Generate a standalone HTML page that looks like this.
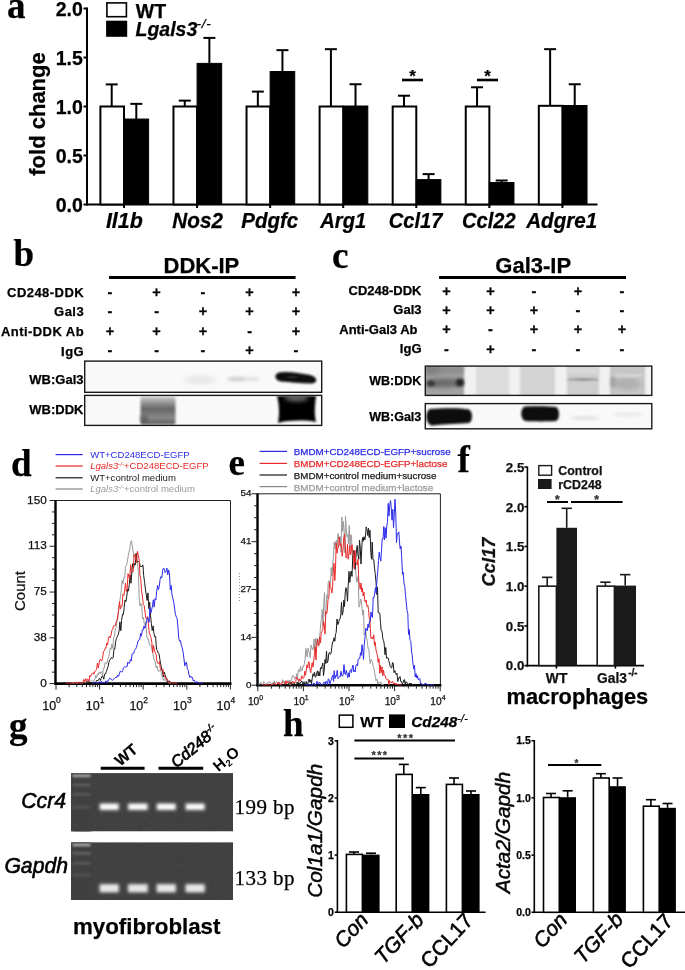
<!DOCTYPE html>
<html><head><meta charset="utf-8"><style>
html,body{margin:0;padding:0;background:#fff;width:685px;height:970px;overflow:hidden}
svg{display:block;will-change:transform}
</style></head><body>
<svg width="685" height="970" viewBox="0 0 685 970">
<defs><filter id="b2_5" x="-50%" y="-50%" width="200%" height="200%"><feGaussianBlur stdDeviation="2.5"/></filter><filter id="b1_6" x="-50%" y="-50%" width="200%" height="200%"><feGaussianBlur stdDeviation="1.6"/></filter><filter id="b1_8" x="-50%" y="-50%" width="200%" height="200%"><feGaussianBlur stdDeviation="1.8"/></filter><filter id="b1_0" x="-50%" y="-50%" width="200%" height="200%"><feGaussianBlur stdDeviation="1.0"/></filter><filter id="b0_8" x="-50%" y="-50%" width="200%" height="200%"><feGaussianBlur stdDeviation="0.8"/></filter><filter id="b1_5" x="-50%" y="-50%" width="200%" height="200%"><feGaussianBlur stdDeviation="1.5"/></filter><filter id="b2" x="-50%" y="-50%" width="200%" height="200%"><feGaussianBlur stdDeviation="2"/></filter><filter id="b2_0" x="-50%" y="-50%" width="200%" height="200%"><feGaussianBlur stdDeviation="2.0"/></filter><filter id="b2_2" x="-50%" y="-50%" width="200%" height="200%"><feGaussianBlur stdDeviation="2.2"/></filter><filter id="b1_2" x="-50%" y="-50%" width="200%" height="200%"><feGaussianBlur stdDeviation="1.2"/></filter><filter id="b1_1" x="-50%" y="-50%" width="200%" height="200%"><feGaussianBlur stdDeviation="1.1"/></filter><filter id="b0_9" x="-50%" y="-50%" width="200%" height="200%"><feGaussianBlur stdDeviation="0.9"/></filter></defs>
<rect x="0" y="0" width="685" height="970" fill="#fff"/>
<text x="7.00" y="18.40" font-family="Liberation Serif" font-size="37" font-weight="bold" font-style="normal" text-anchor="start" fill="#000" stroke="#000" stroke-width="0.25" >a</text>
<line x1="87.00" y1="7.50" x2="87.00" y2="205.50" stroke="#000" stroke-width="2" />
<line x1="86.00" y1="204.50" x2="597.50" y2="204.50" stroke="#000" stroke-width="2" />
<line x1="83.50" y1="204.50" x2="87.00" y2="204.50" stroke="#000" stroke-width="2" />
<text x="82.80" y="211.50" font-family="Liberation Sans" font-size="19.5" font-weight="bold" font-style="normal" text-anchor="end" fill="#000" stroke="#000" stroke-width="0.25" >0.0</text>
<line x1="83.50" y1="155.50" x2="87.00" y2="155.50" stroke="#000" stroke-width="2" />
<text x="82.80" y="162.50" font-family="Liberation Sans" font-size="19.5" font-weight="bold" font-style="normal" text-anchor="end" fill="#000" stroke="#000" stroke-width="0.25" >0.5</text>
<line x1="83.50" y1="106.50" x2="87.00" y2="106.50" stroke="#000" stroke-width="2" />
<text x="82.80" y="113.50" font-family="Liberation Sans" font-size="19.5" font-weight="bold" font-style="normal" text-anchor="end" fill="#000" stroke="#000" stroke-width="0.25" >1.0</text>
<line x1="83.50" y1="57.50" x2="87.00" y2="57.50" stroke="#000" stroke-width="2" />
<text x="82.80" y="64.50" font-family="Liberation Sans" font-size="19.5" font-weight="bold" font-style="normal" text-anchor="end" fill="#000" stroke="#000" stroke-width="0.25" >1.5</text>
<line x1="83.50" y1="8.50" x2="87.00" y2="8.50" stroke="#000" stroke-width="2" />
<text x="82.80" y="15.50" font-family="Liberation Sans" font-size="19.5" font-weight="bold" font-style="normal" text-anchor="end" fill="#000" stroke="#000" stroke-width="0.25" >2.0</text>
<text x="0.00" y="0.00" font-family="Liberation Sans" font-size="22" font-weight="bold" font-style="normal" text-anchor="middle" fill="#000" stroke="#000" stroke-width="0.25" transform="translate(44.5,114) rotate(-90)">fold change</text>
<rect x="100.40" y="106.50" width="23.60" height="98.00" fill="#fff" stroke="#000" stroke-width="2" />
<line x1="111.70" y1="106.50" x2="111.70" y2="84.40" stroke="#000" stroke-width="2" />
<line x1="105.70" y1="84.40" x2="117.70" y2="84.40" stroke="#000" stroke-width="2" />
<rect x="124.00" y="119.04" width="24.60" height="85.46" fill="#000" stroke="#000" stroke-width="1" />
<line x1="136.30" y1="119.04" x2="136.30" y2="103.85" stroke="#000" stroke-width="2" />
<line x1="130.30" y1="103.85" x2="142.30" y2="103.85" stroke="#000" stroke-width="2" />
<line x1="124.00" y1="204.50" x2="124.00" y2="208.00" stroke="#000" stroke-width="2" />
<text x="0.00" y="0.00" font-family="Liberation Sans" font-size="21.5" font-weight="bold" font-style="italic" text-anchor="middle" fill="#000" stroke="#000" stroke-width="0.25" transform="translate(124.3,228.4) scale(0.994,1)">Il1b</text>
<rect x="173.47" y="106.50" width="23.60" height="98.00" fill="#fff" stroke="#000" stroke-width="2" />
<line x1="184.77" y1="106.50" x2="184.77" y2="100.62" stroke="#000" stroke-width="2" />
<line x1="178.77" y1="100.62" x2="190.77" y2="100.62" stroke="#000" stroke-width="2" />
<rect x="197.07" y="63.38" width="24.60" height="141.12" fill="#000" stroke="#000" stroke-width="1" />
<line x1="209.37" y1="63.38" x2="209.37" y2="37.90" stroke="#000" stroke-width="2" />
<line x1="203.37" y1="37.90" x2="215.37" y2="37.90" stroke="#000" stroke-width="2" />
<line x1="197.07" y1="204.50" x2="197.07" y2="208.00" stroke="#000" stroke-width="2" />
<text x="0.00" y="0.00" font-family="Liberation Sans" font-size="21.5" font-weight="bold" font-style="italic" text-anchor="middle" fill="#000" stroke="#000" stroke-width="0.25" transform="translate(197.6,228.4) scale(0.962,1)">Nos2</text>
<rect x="246.54" y="106.50" width="23.60" height="98.00" fill="#fff" stroke="#000" stroke-width="2" />
<line x1="257.84" y1="106.50" x2="257.84" y2="91.60" stroke="#000" stroke-width="2" />
<line x1="251.84" y1="91.60" x2="263.84" y2="91.60" stroke="#000" stroke-width="2" />
<rect x="270.14" y="71.51" width="24.60" height="132.99" fill="#000" stroke="#000" stroke-width="1" />
<line x1="282.44" y1="71.51" x2="282.44" y2="50.15" stroke="#000" stroke-width="2" />
<line x1="276.44" y1="50.15" x2="288.44" y2="50.15" stroke="#000" stroke-width="2" />
<line x1="270.14" y1="204.50" x2="270.14" y2="208.00" stroke="#000" stroke-width="2" />
<text x="0.00" y="0.00" font-family="Liberation Sans" font-size="21.5" font-weight="bold" font-style="italic" text-anchor="middle" fill="#000" stroke="#000" stroke-width="0.25" transform="translate(269.8,228.4) scale(0.953,1)">Pdgfc</text>
<rect x="319.61" y="106.50" width="23.60" height="98.00" fill="#fff" stroke="#000" stroke-width="2" />
<line x1="330.91" y1="106.50" x2="330.91" y2="49.17" stroke="#000" stroke-width="2" />
<line x1="324.91" y1="49.17" x2="336.91" y2="49.17" stroke="#000" stroke-width="2" />
<rect x="343.21" y="106.01" width="24.60" height="98.49" fill="#000" stroke="#000" stroke-width="1" />
<line x1="355.51" y1="106.01" x2="355.51" y2="84.25" stroke="#000" stroke-width="2" />
<line x1="349.51" y1="84.25" x2="361.51" y2="84.25" stroke="#000" stroke-width="2" />
<line x1="343.21" y1="204.50" x2="343.21" y2="208.00" stroke="#000" stroke-width="2" />
<text x="0.00" y="0.00" font-family="Liberation Sans" font-size="21.5" font-weight="bold" font-style="italic" text-anchor="middle" fill="#000" stroke="#000" stroke-width="0.25" transform="translate(343.2,228.4) scale(0.938,1)">Arg1</text>
<rect x="392.68" y="106.50" width="23.60" height="98.00" fill="#fff" stroke="#000" stroke-width="2" />
<line x1="403.98" y1="106.50" x2="403.98" y2="95.72" stroke="#000" stroke-width="2" />
<line x1="397.98" y1="95.72" x2="409.98" y2="95.72" stroke="#000" stroke-width="2" />
<rect x="416.28" y="179.61" width="24.60" height="24.89" fill="#000" stroke="#000" stroke-width="1" />
<line x1="428.58" y1="179.61" x2="428.58" y2="174.12" stroke="#000" stroke-width="2" />
<line x1="422.58" y1="174.12" x2="434.58" y2="174.12" stroke="#000" stroke-width="2" />
<line x1="416.28" y1="204.50" x2="416.28" y2="208.00" stroke="#000" stroke-width="2" />
<text x="0.00" y="0.00" font-family="Liberation Sans" font-size="21.5" font-weight="bold" font-style="italic" text-anchor="middle" fill="#000" stroke="#000" stroke-width="0.25" transform="translate(415.5,228.4) scale(0.936,1)">Ccl17</text>
<rect x="465.75" y="106.50" width="23.60" height="98.00" fill="#fff" stroke="#000" stroke-width="2" />
<line x1="477.05" y1="106.50" x2="477.05" y2="87.29" stroke="#000" stroke-width="2" />
<line x1="471.05" y1="87.29" x2="483.05" y2="87.29" stroke="#000" stroke-width="2" />
<rect x="489.35" y="182.55" width="24.60" height="21.95" fill="#000" stroke="#000" stroke-width="1" />
<line x1="501.65" y1="182.55" x2="501.65" y2="180.49" stroke="#000" stroke-width="2" />
<line x1="495.65" y1="180.49" x2="507.65" y2="180.49" stroke="#000" stroke-width="2" />
<line x1="489.35" y1="204.50" x2="489.35" y2="208.00" stroke="#000" stroke-width="2" />
<text x="0.00" y="0.00" font-family="Liberation Sans" font-size="21.5" font-weight="bold" font-style="italic" text-anchor="middle" fill="#000" stroke="#000" stroke-width="0.25" transform="translate(488.8,228.4) scale(0.933,1)">Ccl22</text>
<rect x="538.82" y="105.81" width="23.60" height="98.69" fill="#fff" stroke="#000" stroke-width="2" />
<line x1="550.12" y1="105.81" x2="550.12" y2="49.17" stroke="#000" stroke-width="2" />
<line x1="544.12" y1="49.17" x2="556.12" y2="49.17" stroke="#000" stroke-width="2" />
<rect x="562.42" y="105.52" width="24.60" height="98.98" fill="#000" stroke="#000" stroke-width="1" />
<line x1="574.72" y1="105.52" x2="574.72" y2="84.25" stroke="#000" stroke-width="2" />
<line x1="568.72" y1="84.25" x2="580.72" y2="84.25" stroke="#000" stroke-width="2" />
<line x1="562.42" y1="204.50" x2="562.42" y2="208.00" stroke="#000" stroke-width="2" />
<text x="0.00" y="0.00" font-family="Liberation Sans" font-size="21.5" font-weight="bold" font-style="italic" text-anchor="middle" fill="#000" stroke="#000" stroke-width="0.25" transform="translate(561.7,228.4) scale(0.959,1)">Adgre1</text>
<line x1="402.00" y1="80.00" x2="423.00" y2="80.00" stroke="#000" stroke-width="2.6" />
<text x="412.50" y="82.00" font-family="Liberation Sans" font-size="17" font-weight="bold" font-style="normal" text-anchor="middle" fill="#000" stroke="#000" stroke-width="0.25" >*</text>
<line x1="477.00" y1="80.00" x2="498.00" y2="80.00" stroke="#000" stroke-width="2.6" />
<text x="487.50" y="82.00" font-family="Liberation Sans" font-size="17" font-weight="bold" font-style="normal" text-anchor="middle" fill="#000" stroke="#000" stroke-width="0.25" >*</text>
<rect x="106.90" y="2.90" width="19.50" height="13.80" fill="#fff" stroke="#000" stroke-width="1.6" />
<rect x="106.10" y="20.70" width="21.10" height="16.10" fill="#000" stroke="none" stroke-width="0" />
<text x="135.80" y="17.50" font-family="Liberation Sans" font-size="19.5" font-weight="bold" font-style="normal" text-anchor="start" fill="#000" stroke="#000" stroke-width="0.25" >WT</text>
<text x="135.50" y="36.40" font-family="Liberation Sans" font-size="19.5" font-weight="bold" font-style="italic" text-anchor="start" fill="#000" stroke="#000" stroke-width="0.25" >Lgals3</text>
<text x="196.60" y="28.30" font-family="Liberation Sans" font-size="13.5" font-weight="normal" font-style="italic" text-anchor="start" fill="#000" stroke="#000" stroke-width="0.25" letter-spacing="0.7">-/-</text>
<text x="13.50" y="266.40" font-family="Liberation Serif" font-size="37" font-weight="bold" font-style="normal" text-anchor="start" fill="#000" stroke="#000" stroke-width="0.25" >b</text>
<text x="163.50" y="272.60" font-family="Liberation Sans" font-size="22" font-weight="bold" font-style="normal" text-anchor="start" fill="#000" stroke="#000" stroke-width="0.25" >DDK-IP</text>
<line x1="109.00" y1="277.60" x2="295.60" y2="277.60" stroke="#000" stroke-width="3" />
<text x="84.10" y="297.00" font-family="Liberation Sans" font-size="13" font-weight="bold" font-style="normal" text-anchor="end" fill="#000" stroke="#000" stroke-width="0.25" letter-spacing="0.45">CD248-DDK</text>
<text x="110.00" y="296.70" font-family="Liberation Sans" font-size="14.5" font-weight="bold" font-style="normal" text-anchor="middle" fill="#000" stroke="#000" stroke-width="0.25" >-</text>
<text x="156.60" y="296.70" font-family="Liberation Sans" font-size="14.5" font-weight="bold" font-style="normal" text-anchor="middle" fill="#000" stroke="#000" stroke-width="0.25" >+</text>
<text x="203.00" y="296.70" font-family="Liberation Sans" font-size="14.5" font-weight="bold" font-style="normal" text-anchor="middle" fill="#000" stroke="#000" stroke-width="0.25" >-</text>
<text x="249.60" y="296.70" font-family="Liberation Sans" font-size="14.5" font-weight="bold" font-style="normal" text-anchor="middle" fill="#000" stroke="#000" stroke-width="0.25" >+</text>
<text x="296.00" y="296.70" font-family="Liberation Sans" font-size="14.5" font-weight="bold" font-style="normal" text-anchor="middle" fill="#000" stroke="#000" stroke-width="0.25" >+</text>
<text x="84.10" y="316.40" font-family="Liberation Sans" font-size="13" font-weight="bold" font-style="normal" text-anchor="end" fill="#000" stroke="#000" stroke-width="0.25" letter-spacing="0.45">Gal3</text>
<text x="110.00" y="316.10" font-family="Liberation Sans" font-size="14.5" font-weight="bold" font-style="normal" text-anchor="middle" fill="#000" stroke="#000" stroke-width="0.25" >-</text>
<text x="156.60" y="316.10" font-family="Liberation Sans" font-size="14.5" font-weight="bold" font-style="normal" text-anchor="middle" fill="#000" stroke="#000" stroke-width="0.25" >-</text>
<text x="203.00" y="316.10" font-family="Liberation Sans" font-size="14.5" font-weight="bold" font-style="normal" text-anchor="middle" fill="#000" stroke="#000" stroke-width="0.25" >+</text>
<text x="249.60" y="316.10" font-family="Liberation Sans" font-size="14.5" font-weight="bold" font-style="normal" text-anchor="middle" fill="#000" stroke="#000" stroke-width="0.25" >+</text>
<text x="296.00" y="316.10" font-family="Liberation Sans" font-size="14.5" font-weight="bold" font-style="normal" text-anchor="middle" fill="#000" stroke="#000" stroke-width="0.25" >+</text>
<text x="84.10" y="336.40" font-family="Liberation Sans" font-size="13" font-weight="bold" font-style="normal" text-anchor="end" fill="#000" stroke="#000" stroke-width="0.25" letter-spacing="0.45">Anti-DDK Ab</text>
<text x="110.00" y="336.10" font-family="Liberation Sans" font-size="14.5" font-weight="bold" font-style="normal" text-anchor="middle" fill="#000" stroke="#000" stroke-width="0.25" >+</text>
<text x="156.60" y="336.10" font-family="Liberation Sans" font-size="14.5" font-weight="bold" font-style="normal" text-anchor="middle" fill="#000" stroke="#000" stroke-width="0.25" >+</text>
<text x="203.00" y="336.10" font-family="Liberation Sans" font-size="14.5" font-weight="bold" font-style="normal" text-anchor="middle" fill="#000" stroke="#000" stroke-width="0.25" >+</text>
<text x="249.60" y="336.10" font-family="Liberation Sans" font-size="14.5" font-weight="bold" font-style="normal" text-anchor="middle" fill="#000" stroke="#000" stroke-width="0.25" >-</text>
<text x="296.00" y="336.10" font-family="Liberation Sans" font-size="14.5" font-weight="bold" font-style="normal" text-anchor="middle" fill="#000" stroke="#000" stroke-width="0.25" >+</text>
<text x="84.10" y="355.70" font-family="Liberation Sans" font-size="13" font-weight="bold" font-style="normal" text-anchor="end" fill="#000" stroke="#000" stroke-width="0.25" letter-spacing="0.45">IgG</text>
<text x="110.00" y="355.40" font-family="Liberation Sans" font-size="14.5" font-weight="bold" font-style="normal" text-anchor="middle" fill="#000" stroke="#000" stroke-width="0.25" >-</text>
<text x="156.60" y="355.40" font-family="Liberation Sans" font-size="14.5" font-weight="bold" font-style="normal" text-anchor="middle" fill="#000" stroke="#000" stroke-width="0.25" >-</text>
<text x="203.00" y="355.40" font-family="Liberation Sans" font-size="14.5" font-weight="bold" font-style="normal" text-anchor="middle" fill="#000" stroke="#000" stroke-width="0.25" >-</text>
<text x="249.60" y="355.40" font-family="Liberation Sans" font-size="14.5" font-weight="bold" font-style="normal" text-anchor="middle" fill="#000" stroke="#000" stroke-width="0.25" >+</text>
<text x="296.00" y="355.40" font-family="Liberation Sans" font-size="14.5" font-weight="bold" font-style="normal" text-anchor="middle" fill="#000" stroke="#000" stroke-width="0.25" >-</text>
<text x="83.50" y="384.30" font-family="Liberation Sans" font-size="13" font-weight="bold" font-style="normal" text-anchor="end" fill="#000" stroke="#000" stroke-width="0.25" >WB:Gal3</text>
<text x="83.50" y="413.50" font-family="Liberation Sans" font-size="13" font-weight="bold" font-style="normal" text-anchor="end" fill="#000" stroke="#000" stroke-width="0.25" >WB:DDK</text>
<text x="332.00" y="268.00" font-family="Liberation Serif" font-size="37" font-weight="bold" font-style="normal" text-anchor="start" fill="#000" stroke="#000" stroke-width="0.25" >c</text>
<text x="495.30" y="273.00" font-family="Liberation Sans" font-size="22" font-weight="bold" font-style="normal" text-anchor="start" fill="#000" stroke="#000" stroke-width="0.25" >Gal3-IP</text>
<line x1="439.00" y1="277.60" x2="626.00" y2="277.60" stroke="#000" stroke-width="3" />
<text x="421.50" y="295.20" font-family="Liberation Sans" font-size="13" font-weight="bold" font-style="normal" text-anchor="end" fill="#000" stroke="#000" stroke-width="0.25" >CD248-DDK</text>
<text x="446.40" y="295.90" font-family="Liberation Sans" font-size="14.5" font-weight="bold" font-style="normal" text-anchor="middle" fill="#000" stroke="#000" stroke-width="0.25" >+</text>
<text x="490.40" y="295.90" font-family="Liberation Sans" font-size="14.5" font-weight="bold" font-style="normal" text-anchor="middle" fill="#000" stroke="#000" stroke-width="0.25" >+</text>
<text x="534.00" y="295.90" font-family="Liberation Sans" font-size="14.5" font-weight="bold" font-style="normal" text-anchor="middle" fill="#000" stroke="#000" stroke-width="0.25" >-</text>
<text x="578.00" y="295.90" font-family="Liberation Sans" font-size="14.5" font-weight="bold" font-style="normal" text-anchor="middle" fill="#000" stroke="#000" stroke-width="0.25" >+</text>
<text x="622.00" y="295.90" font-family="Liberation Sans" font-size="14.5" font-weight="bold" font-style="normal" text-anchor="middle" fill="#000" stroke="#000" stroke-width="0.25" >-</text>
<text x="421.50" y="314.40" font-family="Liberation Sans" font-size="13" font-weight="bold" font-style="normal" text-anchor="end" fill="#000" stroke="#000" stroke-width="0.25" >Gal3</text>
<text x="446.40" y="315.10" font-family="Liberation Sans" font-size="14.5" font-weight="bold" font-style="normal" text-anchor="middle" fill="#000" stroke="#000" stroke-width="0.25" >+</text>
<text x="490.40" y="315.10" font-family="Liberation Sans" font-size="14.5" font-weight="bold" font-style="normal" text-anchor="middle" fill="#000" stroke="#000" stroke-width="0.25" >+</text>
<text x="534.00" y="315.10" font-family="Liberation Sans" font-size="14.5" font-weight="bold" font-style="normal" text-anchor="middle" fill="#000" stroke="#000" stroke-width="0.25" >+</text>
<text x="578.00" y="315.10" font-family="Liberation Sans" font-size="14.5" font-weight="bold" font-style="normal" text-anchor="middle" fill="#000" stroke="#000" stroke-width="0.25" >-</text>
<text x="622.00" y="315.10" font-family="Liberation Sans" font-size="14.5" font-weight="bold" font-style="normal" text-anchor="middle" fill="#000" stroke="#000" stroke-width="0.25" >-</text>
<text x="417.50" y="333.60" font-family="Liberation Sans" font-size="13" font-weight="bold" font-style="normal" text-anchor="end" fill="#000" stroke="#000" stroke-width="0.25" >Anti-Gal3 Ab</text>
<text x="446.40" y="334.30" font-family="Liberation Sans" font-size="14.5" font-weight="bold" font-style="normal" text-anchor="middle" fill="#000" stroke="#000" stroke-width="0.25" >+</text>
<text x="490.40" y="334.30" font-family="Liberation Sans" font-size="14.5" font-weight="bold" font-style="normal" text-anchor="middle" fill="#000" stroke="#000" stroke-width="0.25" >-</text>
<text x="534.00" y="334.30" font-family="Liberation Sans" font-size="14.5" font-weight="bold" font-style="normal" text-anchor="middle" fill="#000" stroke="#000" stroke-width="0.25" >+</text>
<text x="578.00" y="334.30" font-family="Liberation Sans" font-size="14.5" font-weight="bold" font-style="normal" text-anchor="middle" fill="#000" stroke="#000" stroke-width="0.25" >+</text>
<text x="622.00" y="334.30" font-family="Liberation Sans" font-size="14.5" font-weight="bold" font-style="normal" text-anchor="middle" fill="#000" stroke="#000" stroke-width="0.25" >+</text>
<text x="421.50" y="352.90" font-family="Liberation Sans" font-size="13" font-weight="bold" font-style="normal" text-anchor="end" fill="#000" stroke="#000" stroke-width="0.25" >IgG</text>
<text x="446.40" y="353.60" font-family="Liberation Sans" font-size="14.5" font-weight="bold" font-style="normal" text-anchor="middle" fill="#000" stroke="#000" stroke-width="0.25" >-</text>
<text x="490.40" y="353.60" font-family="Liberation Sans" font-size="14.5" font-weight="bold" font-style="normal" text-anchor="middle" fill="#000" stroke="#000" stroke-width="0.25" >+</text>
<text x="534.00" y="353.60" font-family="Liberation Sans" font-size="14.5" font-weight="bold" font-style="normal" text-anchor="middle" fill="#000" stroke="#000" stroke-width="0.25" >-</text>
<text x="578.00" y="353.60" font-family="Liberation Sans" font-size="14.5" font-weight="bold" font-style="normal" text-anchor="middle" fill="#000" stroke="#000" stroke-width="0.25" >-</text>
<text x="622.00" y="353.60" font-family="Liberation Sans" font-size="14.5" font-weight="bold" font-style="normal" text-anchor="middle" fill="#000" stroke="#000" stroke-width="0.25" >-</text>
<text x="421.30" y="385.30" font-family="Liberation Sans" font-size="12.5" font-weight="bold" font-style="normal" text-anchor="end" fill="#000" stroke="#000" stroke-width="0.25" >WB:DDK</text>
<text x="421.30" y="421.30" font-family="Liberation Sans" font-size="12.5" font-weight="bold" font-style="normal" text-anchor="end" fill="#000" stroke="#000" stroke-width="0.25" >WB:Gal3</text>
<clipPath id="cb1"><rect x="84.7" y="361.1" width="237.0" height="31.2"/></clipPath><g clip-path="url(#cb1)">
<rect x="84.70" y="361.10" width="237.00" height="31.20" fill="#f9f9f9" stroke="none" stroke-width="0" />
<ellipse cx="200.00" cy="380.00" rx="16.00" ry="4.00" fill="#e6e6e6" opacity="1" filter="url(#b2_5)" />
<ellipse cx="237.00" cy="379.00" rx="10.00" ry="2.60" fill="#d2d2d2" opacity="1" filter="url(#b1_6)" />
<ellipse cx="252.00" cy="379.00" rx="8.00" ry="2.20" fill="#e2e2e2" opacity="1" filter="url(#b1_8)" />
<path d="M279,372.5 C286,371 300,373 310,375 C318,377 318,383 312,383.5 C300,383.5 290,382 281,381.5 C274,380.5 274,373.5 279,372.5 Z" fill="#0a0a0a" opacity="1" filter="url(#b1_0)"/>
<ellipse cx="292.00" cy="377.30" rx="6.00" ry="0.80" fill="#555" opacity="0.7" filter="url(#b0_8)" />
</g>
<rect x="84.70" y="361.10" width="237.00" height="31.20" fill="none" stroke="#1a1a1a" stroke-width="1.4" />
<clipPath id="cb2"><rect x="84.7" y="395.4" width="237.0" height="30"/></clipPath><g clip-path="url(#cb2)">
<rect x="84.70" y="395.40" width="237.00" height="30.00" fill="#f9f9f9" stroke="none" stroke-width="0" />
<linearGradient id="gddk" x1="0" y1="0" x2="0" y2="1"><stop offset="0" stop-color="#cfcfcf"/><stop offset="0.22" stop-color="#949494"/><stop offset="0.45" stop-color="#666"/><stop offset="0.6" stop-color="#777"/><stop offset="0.75" stop-color="#8a8a8a"/><stop offset="1" stop-color="#5a5a5a"/></linearGradient>
<rect x="140.50" y="396.50" width="35.00" height="28.00" rx="2" fill="url(#gddk)" opacity="1" filter="url(#b1_0)"/>
<ellipse cx="144.00" cy="419.00" rx="4.00" ry="4.00" fill="#555" opacity="0.6" filter="url(#b1_5)" />
<path d="M277,396 L316,396 C315,405 314,412 316,422 C306,420 288,420 278,423 C280,412 279,404 277,396 Z" fill="#000" opacity="1" filter="url(#b1_0)"/>
<ellipse cx="296.50" cy="398.00" rx="12.00" ry="3.50" fill="#707070" opacity="0.9" filter="url(#b2)" />
</g>
<rect x="84.70" y="395.40" width="237.00" height="30.00" fill="none" stroke="#1a1a1a" stroke-width="1.4" />
<clipPath id="cc1"><rect x="425.3" y="366.1" width="226.49999999999994" height="29.3"/></clipPath><g clip-path="url(#cc1)">
<rect x="425.30" y="366.10" width="226.50" height="29.30" fill="#f1f1f1" stroke="none" stroke-width="0" />
<rect x="425.00" y="366.00" width="39.00" height="30.00" rx="0" fill="#a2a2a2" opacity="1" filter="url(#b1_0)"/>
<rect x="426.00" y="366.00" width="37.00" height="8.00" rx="0" fill="#8e8e8e" opacity="1" filter="url(#b2_0)"/>
<ellipse cx="444.00" cy="383.00" rx="19.00" ry="4.50" fill="#6a6a6a" opacity="1" filter="url(#b2_2)" />
<ellipse cx="431.00" cy="383.50" rx="4.00" ry="3.00" fill="#333" opacity="1" filter="url(#b1_8)" />
<ellipse cx="460.00" cy="382.50" rx="4.00" ry="4.00" fill="#222" opacity="1" filter="url(#b1_8)" />
<ellipse cx="432.00" cy="370.00" rx="8.00" ry="4.00" fill="#777" opacity="0.7" filter="url(#b2_5)" />
<rect x="476.00" y="366.00" width="33.00" height="30.00" rx="0" fill="#dcdcdc" opacity="1" filter="url(#b1_0)"/>
<rect x="520.00" y="366.00" width="35.00" height="30.00" rx="0" fill="#d4d4d4" opacity="1" filter="url(#b1_0)"/>
<rect x="567.00" y="366.00" width="32.00" height="30.00" rx="0" fill="#cecece" opacity="1" filter="url(#b1_0)"/>
<rect x="567.00" y="368.00" width="32.00" height="6.00" rx="0" fill="#d8d8d8" opacity="1" filter="url(#b1_2)"/>
<ellipse cx="583.00" cy="379.50" rx="16.00" ry="1.20" fill="#8a8a8a" opacity="1" filter="url(#b0_8)" />
<rect x="610.00" y="366.00" width="35.00" height="30.00" rx="0" fill="#c6c6c6" opacity="1" filter="url(#b1_0)"/>
<ellipse cx="627.00" cy="384.00" rx="14.00" ry="6.00" fill="#b0b0b0" opacity="1" filter="url(#b2_0)" />
<ellipse cx="628.00" cy="375.50" rx="16.00" ry="1.00" fill="#e0e0e0" opacity="1" filter="url(#b0_8)" />
<ellipse cx="613.00" cy="382.00" rx="2.50" ry="6.00" fill="#999" opacity="0.8" filter="url(#b1_6)" />
</g>
<rect x="425.30" y="366.10" width="226.50" height="29.30" fill="none" stroke="#1a1a1a" stroke-width="1.4" />
<clipPath id="cc2"><rect x="425.3" y="403.6" width="226.49999999999994" height="25.2"/></clipPath><g clip-path="url(#cc2)">
<rect x="425.30" y="403.60" width="226.50" height="25.20" fill="#f9f9f9" stroke="none" stroke-width="0" />
<path d="M430,409 C445,408 460,408 469,409.5 C473,412 473,421 469,423 C458,424 445,424 432,425.5 C425,424 425,411 430,409 Z" fill="#080808" opacity="1" filter="url(#b1_1)"/>
<path d="M525,406.5 C535,406 548,406 556,407 C560,409 560,419 556,421 C548,421.5 535,421.5 525,421 C520,419 520,408 525,406.5 Z" fill="#080808" opacity="1" filter="url(#b1_1)"/>
<ellipse cx="585.00" cy="418.00" rx="15.00" ry="2.00" fill="#e2e2e2" opacity="1" filter="url(#b1_5)" />
<ellipse cx="628.00" cy="414.50" rx="15.00" ry="2.00" fill="#e8e8e8" opacity="1" filter="url(#b1_5)" />
</g>
<rect x="425.30" y="403.60" width="226.50" height="25.20" fill="none" stroke="#1a1a1a" stroke-width="1.4" />
<text x="11.00" y="476.00" font-family="Liberation Serif" font-size="37" font-weight="bold" font-style="normal" text-anchor="start" fill="#000" stroke="#000" stroke-width="0.25" >d</text>
<line x1="55.60" y1="454.60" x2="82.70" y2="454.60" stroke="#2b2bea" stroke-width="1.2" />
<line x1="55.60" y1="466.00" x2="82.70" y2="466.00" stroke="#ea2a2a" stroke-width="1.2" />
<line x1="55.60" y1="477.80" x2="82.70" y2="477.80" stroke="#1a1a1a" stroke-width="1.2" />
<line x1="55.60" y1="489.00" x2="82.70" y2="489.00" stroke="#888" stroke-width="1.2" />
<text x="90.2" y="457.9" font-family="Liberation Sans" font-size="9.55" fill="#2b2bea">WT+CD248ECD-EGFP</text>
<text x="90.2" y="469.3" font-family="Liberation Sans" font-size="9.55" fill="#ea2a2a"><tspan font-style="italic">Lgals3</tspan><tspan font-size="6" font-style="italic" dy="-3.5">-/-</tspan><tspan dy="3.5">+CD248ECD-EGFP</tspan></text>
<text x="90.2" y="481" font-family="Liberation Sans" font-size="9.55" fill="#1a1a1a">WT+control medium</text>
<text x="90.2" y="492.4" font-family="Liberation Sans" font-size="9.55" fill="#9a9a9a"><tspan font-style="italic">Lgals3</tspan><tspan font-size="6" font-style="italic" dy="-3.5">-/-</tspan><tspan dy="3.5">+control medium</tspan></text>
<line x1="56.00" y1="500.50" x2="230.50" y2="500.50" stroke="#222" stroke-width="1" />
<line x1="230.50" y1="500.50" x2="230.50" y2="683.60" stroke="#222" stroke-width="1" />
<line x1="55.50" y1="500.00" x2="55.50" y2="684.80" stroke="#000" stroke-width="2.4" />
<line x1="54.30" y1="683.60" x2="231.50" y2="683.60" stroke="#000" stroke-width="2.6" />
<line x1="49.50" y1="500.50" x2="55.00" y2="500.50" stroke="#222" stroke-width="1" />
<text x="46.80" y="503.69" font-family="Liberation Sans" font-size="11.8" font-weight="normal" font-style="normal" text-anchor="end" fill="#111" stroke="#111" stroke-width="0.25" >150</text>
<line x1="52.00" y1="511.94" x2="55.00" y2="511.94" stroke="#222" stroke-width="1" />
<line x1="52.00" y1="523.39" x2="55.00" y2="523.39" stroke="#222" stroke-width="1" />
<line x1="52.00" y1="534.83" x2="55.00" y2="534.83" stroke="#222" stroke-width="1" />
<line x1="49.50" y1="546.27" x2="55.00" y2="546.27" stroke="#222" stroke-width="1" />
<text x="46.80" y="549.46" font-family="Liberation Sans" font-size="11.8" font-weight="normal" font-style="normal" text-anchor="end" fill="#111" stroke="#111" stroke-width="0.25" >113</text>
<line x1="52.00" y1="557.72" x2="55.00" y2="557.72" stroke="#222" stroke-width="1" />
<line x1="52.00" y1="569.16" x2="55.00" y2="569.16" stroke="#222" stroke-width="1" />
<line x1="52.00" y1="580.61" x2="55.00" y2="580.61" stroke="#222" stroke-width="1" />
<line x1="49.50" y1="592.05" x2="55.00" y2="592.05" stroke="#222" stroke-width="1" />
<text x="46.80" y="595.24" font-family="Liberation Sans" font-size="11.8" font-weight="normal" font-style="normal" text-anchor="end" fill="#111" stroke="#111" stroke-width="0.25" >75</text>
<line x1="52.00" y1="603.49" x2="55.00" y2="603.49" stroke="#222" stroke-width="1" />
<line x1="52.00" y1="614.94" x2="55.00" y2="614.94" stroke="#222" stroke-width="1" />
<line x1="52.00" y1="626.38" x2="55.00" y2="626.38" stroke="#222" stroke-width="1" />
<line x1="49.50" y1="637.83" x2="55.00" y2="637.83" stroke="#222" stroke-width="1" />
<text x="46.80" y="641.01" font-family="Liberation Sans" font-size="11.8" font-weight="normal" font-style="normal" text-anchor="end" fill="#111" stroke="#111" stroke-width="0.25" >38</text>
<line x1="52.00" y1="649.27" x2="55.00" y2="649.27" stroke="#222" stroke-width="1" />
<line x1="52.00" y1="660.71" x2="55.00" y2="660.71" stroke="#222" stroke-width="1" />
<line x1="52.00" y1="672.16" x2="55.00" y2="672.16" stroke="#222" stroke-width="1" />
<line x1="49.50" y1="683.60" x2="55.00" y2="683.60" stroke="#222" stroke-width="1" />
<text x="46.80" y="686.79" font-family="Liberation Sans" font-size="11.8" font-weight="normal" font-style="normal" text-anchor="end" fill="#111" stroke="#111" stroke-width="0.25" >0</text>
<line x1="69.12" y1="684.60" x2="69.12" y2="687.10" stroke="#222" stroke-width="1" />
<line x1="76.80" y1="684.60" x2="76.80" y2="687.10" stroke="#222" stroke-width="1" />
<line x1="82.25" y1="684.60" x2="82.25" y2="687.10" stroke="#222" stroke-width="1" />
<line x1="86.48" y1="684.60" x2="86.48" y2="687.10" stroke="#222" stroke-width="1" />
<line x1="89.93" y1="684.60" x2="89.93" y2="687.10" stroke="#222" stroke-width="1" />
<line x1="92.85" y1="684.60" x2="92.85" y2="687.10" stroke="#222" stroke-width="1" />
<line x1="95.37" y1="684.60" x2="95.37" y2="687.10" stroke="#222" stroke-width="1" />
<line x1="97.60" y1="684.60" x2="97.60" y2="687.10" stroke="#222" stroke-width="1" />
<line x1="112.72" y1="684.60" x2="112.72" y2="687.10" stroke="#222" stroke-width="1" />
<line x1="120.40" y1="684.60" x2="120.40" y2="687.10" stroke="#222" stroke-width="1" />
<line x1="125.85" y1="684.60" x2="125.85" y2="687.10" stroke="#222" stroke-width="1" />
<line x1="130.08" y1="684.60" x2="130.08" y2="687.10" stroke="#222" stroke-width="1" />
<line x1="133.53" y1="684.60" x2="133.53" y2="687.10" stroke="#222" stroke-width="1" />
<line x1="136.45" y1="684.60" x2="136.45" y2="687.10" stroke="#222" stroke-width="1" />
<line x1="138.97" y1="684.60" x2="138.97" y2="687.10" stroke="#222" stroke-width="1" />
<line x1="141.20" y1="684.60" x2="141.20" y2="687.10" stroke="#222" stroke-width="1" />
<line x1="156.32" y1="684.60" x2="156.32" y2="687.10" stroke="#222" stroke-width="1" />
<line x1="164.00" y1="684.60" x2="164.00" y2="687.10" stroke="#222" stroke-width="1" />
<line x1="169.45" y1="684.60" x2="169.45" y2="687.10" stroke="#222" stroke-width="1" />
<line x1="173.68" y1="684.60" x2="173.68" y2="687.10" stroke="#222" stroke-width="1" />
<line x1="177.13" y1="684.60" x2="177.13" y2="687.10" stroke="#222" stroke-width="1" />
<line x1="180.05" y1="684.60" x2="180.05" y2="687.10" stroke="#222" stroke-width="1" />
<line x1="182.57" y1="684.60" x2="182.57" y2="687.10" stroke="#222" stroke-width="1" />
<line x1="184.80" y1="684.60" x2="184.80" y2="687.10" stroke="#222" stroke-width="1" />
<line x1="199.92" y1="684.60" x2="199.92" y2="687.10" stroke="#222" stroke-width="1" />
<line x1="207.60" y1="684.60" x2="207.60" y2="687.10" stroke="#222" stroke-width="1" />
<line x1="213.05" y1="684.60" x2="213.05" y2="687.10" stroke="#222" stroke-width="1" />
<line x1="217.28" y1="684.60" x2="217.28" y2="687.10" stroke="#222" stroke-width="1" />
<line x1="220.73" y1="684.60" x2="220.73" y2="687.10" stroke="#222" stroke-width="1" />
<line x1="223.65" y1="684.60" x2="223.65" y2="687.10" stroke="#222" stroke-width="1" />
<line x1="226.17" y1="684.60" x2="226.17" y2="687.10" stroke="#222" stroke-width="1" />
<line x1="228.40" y1="684.60" x2="228.40" y2="687.10" stroke="#222" stroke-width="1" />
<line x1="56.00" y1="684.60" x2="56.00" y2="689.60" stroke="#222" stroke-width="1" />
<text x="42.19" y="709.50" font-family="Liberation Sans" font-size="12.5" font-weight="normal" font-style="normal" text-anchor="start" fill="#111" stroke="#111" stroke-width="0.25" >10</text>
<text x="56.09" y="703.25" font-family="Liberation Sans" font-size="8.5" font-weight="normal" font-style="normal" text-anchor="start" fill="#111" stroke="#111" stroke-width="0.25" >0</text>
<line x1="99.60" y1="684.60" x2="99.60" y2="689.60" stroke="#222" stroke-width="1" />
<text x="85.79" y="709.50" font-family="Liberation Sans" font-size="12.5" font-weight="normal" font-style="normal" text-anchor="start" fill="#111" stroke="#111" stroke-width="0.25" >10</text>
<text x="99.69" y="703.25" font-family="Liberation Sans" font-size="8.5" font-weight="normal" font-style="normal" text-anchor="start" fill="#111" stroke="#111" stroke-width="0.25" >1</text>
<line x1="143.20" y1="684.60" x2="143.20" y2="689.60" stroke="#222" stroke-width="1" />
<text x="129.39" y="709.50" font-family="Liberation Sans" font-size="12.5" font-weight="normal" font-style="normal" text-anchor="start" fill="#111" stroke="#111" stroke-width="0.25" >10</text>
<text x="143.29" y="703.25" font-family="Liberation Sans" font-size="8.5" font-weight="normal" font-style="normal" text-anchor="start" fill="#111" stroke="#111" stroke-width="0.25" >2</text>
<line x1="186.80" y1="684.60" x2="186.80" y2="689.60" stroke="#222" stroke-width="1" />
<text x="172.99" y="709.50" font-family="Liberation Sans" font-size="12.5" font-weight="normal" font-style="normal" text-anchor="start" fill="#111" stroke="#111" stroke-width="0.25" >10</text>
<text x="186.89" y="703.25" font-family="Liberation Sans" font-size="8.5" font-weight="normal" font-style="normal" text-anchor="start" fill="#111" stroke="#111" stroke-width="0.25" >3</text>
<line x1="230.40" y1="684.60" x2="230.40" y2="689.60" stroke="#222" stroke-width="1" />
<text x="216.59" y="709.50" font-family="Liberation Sans" font-size="12.5" font-weight="normal" font-style="normal" text-anchor="start" fill="#111" stroke="#111" stroke-width="0.25" >10</text>
<text x="230.49" y="703.25" font-family="Liberation Sans" font-size="8.5" font-weight="normal" font-style="normal" text-anchor="start" fill="#111" stroke="#111" stroke-width="0.25" >4</text>
<text x="0.00" y="0.00" font-family="Liberation Sans" font-size="15" font-weight="normal" font-style="normal" text-anchor="middle" fill="#111" stroke="#111" stroke-width="0.25" transform="translate(24.8,591) rotate(-90)">Count</text>
<polyline points="72.0,682.7 72.8,683.3 73.7,683.3 74.5,683.1 75.4,682.6 76.2,683.3 77.1,683.3 77.9,683.3 78.8,682.6 79.6,682.4 80.5,683.3 81.3,683.3 82.2,683.3 83.0,683.3 83.9,682.4 84.7,682.0 85.6,683.3 86.4,681.6 87.3,681.0 88.1,680.5 89.0,681.5 89.8,681.4 90.7,680.8 91.5,681.0 92.4,681.1 93.2,681.0 94.1,680.8 94.9,678.9 95.8,675.4 96.6,677.7 97.5,673.8 98.3,674.8 99.2,672.2 100.0,674.0 100.9,671.7 101.7,671.9 102.6,675.7 103.4,668.0 104.3,668.0 105.1,662.3 106.0,663.4 106.8,663.7 107.7,659.6 108.5,657.6 109.4,653.7 110.2,647.8 111.1,649.3 111.9,643.9 112.8,648.5 113.6,637.6 114.5,636.1 115.3,628.9 116.2,627.7 117.0,619.8 117.9,618.9 118.7,605.8 119.6,603.1 120.4,596.7 121.3,589.6 122.1,580.5 123.0,583.8 123.8,577.7 124.7,578.1 125.5,566.3 126.4,565.7 127.2,562.5 128.1,556.7 128.9,552.1 129.8,549.2 130.6,542.1 131.5,540.7 132.3,545.9 133.2,551.9 134.0,556.9 134.9,555.2 135.7,556.5 136.6,558.5 137.4,563.2 138.3,570.8 139.1,596.4 140.0,606.0 140.8,603.3 141.7,604.9 142.5,618.8 143.4,617.5 144.2,623.1 145.1,625.0 145.9,621.7 146.8,636.9 147.6,639.0 148.5,638.6 149.3,644.2 150.2,645.6 151.0,645.2 151.9,649.1 152.7,652.9 153.6,657.9 154.4,660.3 155.3,662.3 156.1,667.8 157.0,666.0 157.8,670.1 158.7,671.6 159.5,670.4 160.4,669.5 161.2,672.7 162.1,676.1 162.9,678.0 163.8,680.6 164.6,678.7 165.5,680.5 166.3,681.6 167.2,681.4 168.0,680.3 168.9,683.3 169.7,683.3 170.6,683.3 171.4,682.9" fill="none" stroke="#9a9a9a" stroke-width="1.0" opacity="1" stroke-linejoin="round"/>
<polyline points="80.0,682.6 80.8,683.3 81.7,683.2 82.5,683.1 83.4,683.3 84.2,683.2 85.1,682.9 85.9,683.3 86.8,682.4 87.6,681.6 88.5,681.4 89.3,681.9 90.2,682.7 91.0,682.7 91.9,682.9 92.7,683.3 93.6,683.2 94.4,682.2 95.3,682.7 96.1,681.7 97.0,680.0 97.8,680.9 98.7,679.4 99.5,678.3 100.4,680.5 101.2,678.3 102.1,676.1 102.9,676.2 103.8,679.2 104.6,674.1 105.5,673.9 106.3,671.6 107.2,669.1 108.0,666.8 108.9,662.3 109.7,660.1 110.6,659.1 111.4,657.4 112.3,658.4 113.1,657.8 114.0,648.7 114.8,649.0 115.7,641.2 116.5,638.3 117.4,636.4 118.2,634.7 119.1,631.0 119.9,621.9 120.8,630.7 121.6,620.4 122.5,614.1 123.3,614.7 124.2,607.4 125.0,600.0 125.9,601.6 126.7,596.9 127.6,589.1 128.4,591.1 129.3,584.4 130.1,575.0 131.0,583.2 131.8,572.0 132.7,563.5 133.5,568.0 134.4,563.6 135.2,565.1 136.1,553.2 136.9,562.4 137.8,561.5 138.6,561.6 139.5,562.5 140.3,566.8 141.2,566.4 142.0,566.6 142.9,564.9 143.7,575.7 144.6,582.4 145.4,589.1 146.3,595.1 147.1,600.4 148.0,592.9 148.8,608.7 149.7,602.3 150.5,615.4 151.4,623.8 152.2,630.5 153.1,625.9 153.9,633.3 154.8,637.1 155.6,636.5 156.5,649.4 157.3,650.7 158.2,653.0 159.0,653.6 159.9,659.6 160.7,663.8 161.6,669.5 162.4,670.1 163.3,677.0 164.1,672.0 165.0,674.4 165.8,677.1 166.7,678.4 167.5,682.5 168.4,682.2 169.2,680.8 170.1,682.4 170.9,683.3 171.8,682.1 172.6,683.3 173.5,683.3 174.3,683.3" fill="none" stroke="#1a1a1a" stroke-width="1.0" opacity="1" stroke-linejoin="round"/>
<polyline points="66.0,683.3 66.8,683.3 67.7,683.0 68.5,682.4 69.4,683.3 70.2,683.3 71.1,683.3 71.9,683.3 72.8,683.0 73.6,682.6 74.5,682.4 75.3,682.7 76.2,682.5 77.0,683.3 77.9,683.2 78.7,681.7 79.6,683.1 80.4,682.5 81.3,683.2 82.1,683.3 83.0,682.1 83.8,679.4 84.7,681.5 85.5,678.7 86.4,681.8 87.2,679.0 88.1,679.3 88.9,681.1 89.8,675.6 90.6,676.7 91.5,674.0 92.3,673.8 93.2,672.7 94.0,674.1 94.9,671.1 95.7,670.6 96.6,669.4 97.4,663.1 98.3,667.8 99.1,663.3 100.0,659.3 100.8,659.7 101.7,660.9 102.5,658.7 103.4,651.8 104.2,650.8 105.1,648.4 105.9,648.2 106.8,643.1 107.6,644.9 108.5,638.0 109.3,636.4 110.2,638.0 111.0,635.4 111.9,630.2 112.7,629.5 113.6,625.7 114.4,625.6 115.3,625.5 116.1,621.9 117.0,621.0 117.8,614.3 118.7,610.9 119.5,601.6 120.4,609.2 121.2,605.8 122.1,606.2 122.9,594.2 123.8,595.3 124.6,590.9 125.5,583.2 126.3,591.5 127.2,588.8 128.0,573.6 128.9,576.7 129.7,579.4 130.6,564.7 131.4,571.9 132.3,572.1 133.1,571.8 134.0,555.4 134.8,554.4 135.7,558.3 136.5,562.3 137.4,551.4 138.2,555.1 139.1,559.5 139.9,575.2 140.8,579.3 141.6,591.3 142.5,597.0 143.3,604.4 144.2,605.8 145.0,611.9 145.9,618.3 146.7,618.7 147.6,616.5 148.4,623.6 149.3,633.0 150.1,635.1 151.0,637.5 151.8,642.2 152.7,652.6 153.5,645.4 154.4,649.7 155.2,652.9 156.1,654.6 156.9,661.2 157.8,663.0 158.6,663.8 159.5,661.5 160.3,668.6 161.2,669.8 162.0,670.7 162.9,668.9 163.7,675.5 164.6,675.8 165.4,678.4 166.3,678.5 167.1,678.9 168.0,681.7 168.8,681.5 169.7,683.2 170.5,681.8 171.4,682.5 172.2,683.3 173.1,683.2 173.9,682.7 174.8,682.8 175.6,683.1 176.5,683.3 177.3,683.3" fill="none" stroke="#ea2a2a" stroke-width="1.0" opacity="1" stroke-linejoin="round"/>
<polyline points="93.0,683.3 93.8,683.3 94.7,682.6 95.5,682.2 96.4,683.2 97.2,683.3 98.1,682.9 98.9,681.7 99.8,682.2 100.6,683.3 101.5,681.1 102.3,683.1 103.2,682.5 104.0,682.4 104.9,682.5 105.7,681.0 106.6,681.0 107.4,682.7 108.3,679.9 109.1,679.5 110.0,677.9 110.8,678.7 111.7,680.0 112.5,680.4 113.4,679.2 114.2,678.7 115.1,678.1 115.9,677.1 116.8,677.5 117.6,675.1 118.5,676.4 119.3,674.2 120.2,671.3 121.0,671.3 121.9,672.2 122.7,670.5 123.6,667.6 124.4,666.9 125.3,667.3 126.1,666.6 127.0,666.8 127.8,662.2 128.7,663.4 129.5,663.1 130.4,659.6 131.2,661.1 132.1,653.9 132.9,653.6 133.8,653.1 134.6,650.3 135.5,649.2 136.3,647.6 137.2,644.5 138.0,641.1 138.9,639.8 139.7,639.6 140.6,633.4 141.4,636.2 142.3,629.8 143.1,630.2 144.0,625.9 144.8,628.3 145.7,624.3 146.5,621.8 147.4,617.6 148.2,619.0 149.1,622.3 149.9,607.6 150.8,613.1 151.6,609.8 152.5,606.0 153.3,599.8 154.2,607.1 155.0,598.7 155.9,600.0 156.7,591.1 157.6,585.4 158.4,589.6 159.3,586.4 160.1,579.3 161.0,576.6 161.8,577.9 162.7,570.4 163.5,568.0 164.4,569.3 165.2,572.8 166.1,571.3 166.9,568.1 167.8,574.9 168.6,569.9 169.5,573.6 170.3,589.8 171.2,585.5 172.0,595.0 172.9,598.6 173.7,602.2 174.6,608.1 175.4,614.2 176.3,616.9 177.1,618.5 178.0,627.7 178.8,638.7 179.7,641.3 180.5,640.6 181.4,645.8 182.2,647.9 183.1,652.2 183.9,658.3 184.8,665.9 185.6,662.8 186.5,662.2 187.3,668.5 188.2,670.2 189.0,675.0 189.9,677.5 190.7,676.1 191.6,677.6 192.4,677.4 193.3,681.0 194.1,680.0 195.0,681.6 195.8,683.3 196.7,681.4 197.5,682.6 198.4,682.7 199.2,683.3 200.1,683.3 200.9,683.3 201.8,683.3 202.6,683.3" fill="none" stroke="#2b2bea" stroke-width="1.0" opacity="1" stroke-linejoin="round"/>
<text x="228.50" y="475.00" font-family="Liberation Serif" font-size="37" font-weight="bold" font-style="normal" text-anchor="start" fill="#000" stroke="#000" stroke-width="0.25" >e</text>
<line x1="259.60" y1="451.40" x2="287.00" y2="451.40" stroke="#2b2bea" stroke-width="1.2" />
<line x1="259.60" y1="463.40" x2="287.00" y2="463.40" stroke="#ea2a2a" stroke-width="1.2" />
<line x1="259.60" y1="475.00" x2="287.00" y2="475.00" stroke="#1a1a1a" stroke-width="1.2" />
<line x1="259.60" y1="486.60" x2="287.00" y2="486.60" stroke="#888" stroke-width="1.2" />
<text x="293.80" y="455.45" font-family="Liberation Sans" font-size="9.8" font-weight="normal" font-style="normal" text-anchor="start" fill="#2b2bea" stroke="#2b2bea" stroke-width="0.25" >BMDM+CD248ECD-EGFP+sucrose</text>
<text x="293.80" y="467.45" font-family="Liberation Sans" font-size="9.8" font-weight="normal" font-style="normal" text-anchor="start" fill="#ea2a2a" stroke="#ea2a2a" stroke-width="0.25" >BMDM+CD248ECD-EGFP+lactose</text>
<text x="293.80" y="479.05" font-family="Liberation Sans" font-size="9.8" font-weight="normal" font-style="normal" text-anchor="start" fill="#1a1a1a" stroke="#1a1a1a" stroke-width="0.25" >BMDM+control medium+sucrose</text>
<text x="293.80" y="490.65" font-family="Liberation Sans" font-size="9.8" font-weight="normal" font-style="normal" text-anchor="start" fill="#9a9a9a" stroke="#9a9a9a" stroke-width="0.25" >BMDM+control medium+lactose</text>
<line x1="258.00" y1="493.80" x2="440.40" y2="493.80" stroke="#222" stroke-width="1" />
<line x1="440.40" y1="493.80" x2="440.40" y2="685.20" stroke="#222" stroke-width="1" />
<line x1="257.50" y1="493.30" x2="257.50" y2="686.40" stroke="#000" stroke-width="2.4" />
<line x1="256.30" y1="685.20" x2="441.40" y2="685.20" stroke="#000" stroke-width="2.6" />
<line x1="251.50" y1="493.80" x2="257.00" y2="493.80" stroke="#222" stroke-width="1" />
<text x="251.50" y="496.45" font-family="Liberation Sans" font-size="9.8" font-weight="normal" font-style="normal" text-anchor="end" fill="#111" stroke="#111" stroke-width="0.25" >54</text>
<line x1="254.00" y1="505.76" x2="257.00" y2="505.76" stroke="#222" stroke-width="1" />
<line x1="254.00" y1="517.73" x2="257.00" y2="517.73" stroke="#222" stroke-width="1" />
<line x1="254.00" y1="529.69" x2="257.00" y2="529.69" stroke="#222" stroke-width="1" />
<line x1="251.50" y1="541.65" x2="257.00" y2="541.65" stroke="#222" stroke-width="1" />
<text x="251.50" y="544.30" font-family="Liberation Sans" font-size="9.8" font-weight="normal" font-style="normal" text-anchor="end" fill="#111" stroke="#111" stroke-width="0.25" >41</text>
<line x1="254.00" y1="553.61" x2="257.00" y2="553.61" stroke="#222" stroke-width="1" />
<line x1="254.00" y1="565.57" x2="257.00" y2="565.57" stroke="#222" stroke-width="1" />
<line x1="254.00" y1="577.54" x2="257.00" y2="577.54" stroke="#222" stroke-width="1" />
<line x1="251.50" y1="589.50" x2="257.00" y2="589.50" stroke="#222" stroke-width="1" />
<text x="251.50" y="592.15" font-family="Liberation Sans" font-size="9.8" font-weight="normal" font-style="normal" text-anchor="end" fill="#111" stroke="#111" stroke-width="0.25" >27</text>
<line x1="254.00" y1="601.46" x2="257.00" y2="601.46" stroke="#222" stroke-width="1" />
<line x1="254.00" y1="613.42" x2="257.00" y2="613.42" stroke="#222" stroke-width="1" />
<line x1="254.00" y1="625.39" x2="257.00" y2="625.39" stroke="#222" stroke-width="1" />
<line x1="251.50" y1="637.35" x2="257.00" y2="637.35" stroke="#222" stroke-width="1" />
<text x="251.50" y="640.00" font-family="Liberation Sans" font-size="9.8" font-weight="normal" font-style="normal" text-anchor="end" fill="#111" stroke="#111" stroke-width="0.25" >14</text>
<line x1="254.00" y1="649.31" x2="257.00" y2="649.31" stroke="#222" stroke-width="1" />
<line x1="254.00" y1="661.27" x2="257.00" y2="661.27" stroke="#222" stroke-width="1" />
<line x1="254.00" y1="673.24" x2="257.00" y2="673.24" stroke="#222" stroke-width="1" />
<line x1="251.50" y1="685.20" x2="257.00" y2="685.20" stroke="#222" stroke-width="1" />
<text x="251.50" y="687.85" font-family="Liberation Sans" font-size="9.8" font-weight="normal" font-style="normal" text-anchor="end" fill="#111" stroke="#111" stroke-width="0.25" >0</text>
<line x1="271.53" y1="686.20" x2="271.53" y2="688.70" stroke="#222" stroke-width="1" />
<line x1="279.56" y1="686.20" x2="279.56" y2="688.70" stroke="#222" stroke-width="1" />
<line x1="285.25" y1="686.20" x2="285.25" y2="688.70" stroke="#222" stroke-width="1" />
<line x1="289.67" y1="686.20" x2="289.67" y2="688.70" stroke="#222" stroke-width="1" />
<line x1="293.28" y1="686.20" x2="293.28" y2="688.70" stroke="#222" stroke-width="1" />
<line x1="296.34" y1="686.20" x2="296.34" y2="688.70" stroke="#222" stroke-width="1" />
<line x1="298.98" y1="686.20" x2="298.98" y2="688.70" stroke="#222" stroke-width="1" />
<line x1="301.31" y1="686.20" x2="301.31" y2="688.70" stroke="#222" stroke-width="1" />
<line x1="317.13" y1="686.20" x2="317.13" y2="688.70" stroke="#222" stroke-width="1" />
<line x1="325.16" y1="686.20" x2="325.16" y2="688.70" stroke="#222" stroke-width="1" />
<line x1="330.85" y1="686.20" x2="330.85" y2="688.70" stroke="#222" stroke-width="1" />
<line x1="335.27" y1="686.20" x2="335.27" y2="688.70" stroke="#222" stroke-width="1" />
<line x1="338.88" y1="686.20" x2="338.88" y2="688.70" stroke="#222" stroke-width="1" />
<line x1="341.94" y1="686.20" x2="341.94" y2="688.70" stroke="#222" stroke-width="1" />
<line x1="344.58" y1="686.20" x2="344.58" y2="688.70" stroke="#222" stroke-width="1" />
<line x1="346.91" y1="686.20" x2="346.91" y2="688.70" stroke="#222" stroke-width="1" />
<line x1="362.73" y1="686.20" x2="362.73" y2="688.70" stroke="#222" stroke-width="1" />
<line x1="370.76" y1="686.20" x2="370.76" y2="688.70" stroke="#222" stroke-width="1" />
<line x1="376.45" y1="686.20" x2="376.45" y2="688.70" stroke="#222" stroke-width="1" />
<line x1="380.87" y1="686.20" x2="380.87" y2="688.70" stroke="#222" stroke-width="1" />
<line x1="384.48" y1="686.20" x2="384.48" y2="688.70" stroke="#222" stroke-width="1" />
<line x1="387.54" y1="686.20" x2="387.54" y2="688.70" stroke="#222" stroke-width="1" />
<line x1="390.18" y1="686.20" x2="390.18" y2="688.70" stroke="#222" stroke-width="1" />
<line x1="392.51" y1="686.20" x2="392.51" y2="688.70" stroke="#222" stroke-width="1" />
<line x1="408.33" y1="686.20" x2="408.33" y2="688.70" stroke="#222" stroke-width="1" />
<line x1="416.36" y1="686.20" x2="416.36" y2="688.70" stroke="#222" stroke-width="1" />
<line x1="422.05" y1="686.20" x2="422.05" y2="688.70" stroke="#222" stroke-width="1" />
<line x1="426.47" y1="686.20" x2="426.47" y2="688.70" stroke="#222" stroke-width="1" />
<line x1="430.08" y1="686.20" x2="430.08" y2="688.70" stroke="#222" stroke-width="1" />
<line x1="433.14" y1="686.20" x2="433.14" y2="688.70" stroke="#222" stroke-width="1" />
<line x1="435.78" y1="686.20" x2="435.78" y2="688.70" stroke="#222" stroke-width="1" />
<line x1="438.11" y1="686.20" x2="438.11" y2="688.70" stroke="#222" stroke-width="1" />
<line x1="257.80" y1="686.20" x2="257.80" y2="691.20" stroke="#222" stroke-width="1" />
<text x="247.90" y="705.00" font-family="Liberation Sans" font-size="10.2" font-weight="normal" font-style="normal" text-anchor="start" fill="#111" stroke="#111" stroke-width="0.25" >10</text>
<text x="259.24" y="699.90" font-family="Liberation Sans" font-size="6.936" font-weight="normal" font-style="normal" text-anchor="start" fill="#111" stroke="#111" stroke-width="0.25" >0</text>
<line x1="303.40" y1="686.20" x2="303.40" y2="691.20" stroke="#222" stroke-width="1" />
<text x="293.50" y="705.00" font-family="Liberation Sans" font-size="10.2" font-weight="normal" font-style="normal" text-anchor="start" fill="#111" stroke="#111" stroke-width="0.25" >10</text>
<text x="304.84" y="699.90" font-family="Liberation Sans" font-size="6.936" font-weight="normal" font-style="normal" text-anchor="start" fill="#111" stroke="#111" stroke-width="0.25" >1</text>
<line x1="349.00" y1="686.20" x2="349.00" y2="691.20" stroke="#222" stroke-width="1" />
<text x="339.10" y="705.00" font-family="Liberation Sans" font-size="10.2" font-weight="normal" font-style="normal" text-anchor="start" fill="#111" stroke="#111" stroke-width="0.25" >10</text>
<text x="350.44" y="699.90" font-family="Liberation Sans" font-size="6.936" font-weight="normal" font-style="normal" text-anchor="start" fill="#111" stroke="#111" stroke-width="0.25" >2</text>
<line x1="394.60" y1="686.20" x2="394.60" y2="691.20" stroke="#222" stroke-width="1" />
<text x="384.70" y="705.00" font-family="Liberation Sans" font-size="10.2" font-weight="normal" font-style="normal" text-anchor="start" fill="#111" stroke="#111" stroke-width="0.25" >10</text>
<text x="396.04" y="699.90" font-family="Liberation Sans" font-size="6.936" font-weight="normal" font-style="normal" text-anchor="start" fill="#111" stroke="#111" stroke-width="0.25" >3</text>
<line x1="440.20" y1="686.20" x2="440.20" y2="691.20" stroke="#222" stroke-width="1" />
<text x="430.30" y="705.00" font-family="Liberation Sans" font-size="10.2" font-weight="normal" font-style="normal" text-anchor="start" fill="#111" stroke="#111" stroke-width="0.25" >10</text>
<text x="441.64" y="699.90" font-family="Liberation Sans" font-size="6.936" font-weight="normal" font-style="normal" text-anchor="start" fill="#111" stroke="#111" stroke-width="0.25" >4</text>
<line x1="239.40" y1="573.00" x2="239.40" y2="601.00" stroke="#555" stroke-width="1" stroke-dasharray="1,2" opacity="0.7"/>
<polyline points="258.5,684.7 259.2,684.9 260.0,682.3 260.8,682.2 261.5,684.1 262.2,684.9 263.0,684.1 263.8,681.6 264.5,682.2 265.2,683.3 266.0,684.8 266.8,683.2 267.5,682.6 268.2,682.7 269.0,683.3 269.8,681.7 270.5,682.9 271.2,683.2 272.0,684.9 272.8,682.6 273.5,684.3 274.2,680.8 275.0,684.1 275.8,682.8 276.5,681.5 277.2,682.4 278.0,684.0 278.8,681.8 279.5,684.2 280.2,684.9 281.0,684.9 281.8,684.9 282.5,679.7 283.2,682.6 284.0,680.7 284.8,683.7 285.5,682.0 286.2,682.2 287.0,682.6 287.8,680.5 288.5,681.8 289.2,680.2 290.0,684.9 290.8,680.2 291.5,680.5 292.2,675.8 293.0,675.4 293.8,675.9 294.5,679.2 295.2,678.5 296.0,676.8 296.8,673.7 297.5,679.6 298.2,670.2 299.0,669.3 299.8,672.1 300.5,666.1 301.2,669.2 302.0,670.9 302.8,666.5 303.5,667.0 304.2,664.2 305.0,659.8 305.8,648.2 306.5,653.8 307.2,656.8 308.0,648.3 308.8,651.4 309.5,653.6 310.2,657.8 311.0,645.0 311.8,647.6 312.5,649.7 313.2,649.6 314.0,639.0 314.8,652.9 315.5,638.3 316.2,646.2 317.0,638.4 317.8,640.4 318.5,646.0 319.2,639.5 320.0,633.1 320.8,622.4 321.5,619.3 322.2,609.7 323.0,626.4 323.8,601.2 324.5,592.5 325.2,616.3 326.0,610.2 326.8,594.8 327.5,598.4 328.2,582.5 329.0,580.6 329.8,585.8 330.5,581.1 331.2,567.6 332.0,576.1 332.8,563.4 333.5,556.0 334.2,542.1 335.0,548.9 335.8,541.3 336.5,540.4 337.2,546.5 338.0,533.5 338.8,538.9 339.5,541.7 340.2,536.4 341.0,552.2 341.8,516.9 342.5,531.3 343.2,521.2 344.0,530.6 344.8,552.8 345.5,516.2 346.2,527.8 347.0,536.9 347.8,534.3 348.5,544.0 349.2,525.4 350.0,548.5 350.8,534.5 351.5,535.8 352.2,554.7 353.0,558.2 353.8,552.4 354.5,554.7 355.2,563.3 356.0,574.3 356.8,582.2 357.5,580.1 358.2,576.2 359.0,607.2 359.8,604.8 360.5,598.9 361.2,599.6 362.0,608.9 362.8,615.1 363.5,609.9 364.2,634.8 365.0,633.1 365.8,631.9 366.5,637.7 367.2,640.3 368.0,648.6 368.8,648.9 369.5,658.5 370.2,663.6 371.0,659.3 371.8,660.8 372.5,661.4 373.2,666.6 374.0,668.3 374.8,674.0 375.5,677.9 376.2,680.9 377.0,679.1 377.8,683.9 378.5,681.8 379.2,682.9 380.0,683.0 380.8,681.9 381.5,684.9 382.2,683.9 383.0,684.9 383.8,684.9" fill="none" stroke="#9a9a9a" stroke-width="1.0" opacity="1" stroke-linejoin="round"/>
<polyline points="280.0,684.9 280.8,684.9 281.5,684.9 282.2,684.9 283.0,684.9 283.8,684.9 284.5,684.8 285.2,684.6 286.0,684.9 286.8,684.6 287.5,684.9 288.2,684.7 289.0,682.8 289.8,683.2 290.5,683.6 291.2,682.0 292.0,684.3 292.8,683.9 293.5,684.9 294.2,682.9 295.0,683.7 295.8,684.8 296.5,684.9 297.2,682.0 298.0,684.9 298.8,682.4 299.5,684.9 300.2,682.7 301.0,682.4 301.8,680.9 302.5,682.8 303.2,684.9 304.0,681.7 304.8,684.9 305.5,684.9 306.2,681.5 307.0,684.1 307.8,684.3 308.5,680.2 309.2,679.0 310.0,682.3 310.8,679.8 311.5,683.7 312.2,678.7 313.0,673.8 313.8,676.1 314.5,672.2 315.2,677.2 316.0,676.6 316.8,672.7 317.5,670.8 318.2,676.0 319.0,671.6 319.8,676.0 320.5,667.7 321.2,668.8 322.0,666.4 322.8,663.0 323.5,675.6 324.2,670.2 325.0,659.4 325.8,663.6 326.5,651.0 327.2,662.8 328.0,660.9 328.8,653.4 329.5,652.5 330.2,654.2 331.0,653.5 331.8,647.2 332.5,642.0 333.2,641.9 334.0,637.8 334.8,641.2 335.5,634.4 336.2,632.5 337.0,619.0 337.8,624.6 338.5,623.0 339.2,619.8 340.0,619.1 340.8,614.2 341.5,602.3 342.2,615.2 343.0,612.2 343.8,600.3 344.5,606.5 345.2,593.1 346.0,587.7 346.8,591.8 347.5,601.3 348.2,585.5 349.0,571.4 349.8,582.4 350.5,574.1 351.2,571.0 352.0,576.4 352.8,555.6 353.5,551.0 354.2,550.3 355.0,569.4 355.8,558.9 356.5,549.6 357.2,545.5 358.0,555.0 358.8,559.2 359.5,540.2 360.2,547.0 361.0,564.0 361.8,547.1 362.5,537.5 363.2,541.3 364.0,536.7 364.8,540.0 365.5,536.1 366.2,526.9 367.0,529.3 367.8,535.5 368.5,528.2 369.2,537.5 370.0,530.2 370.8,552.3 371.5,559.2 372.2,542.1 373.0,559.8 373.8,559.8 374.5,568.0 375.2,573.4 376.0,582.3 376.8,594.6 377.5,587.3 378.2,612.8 379.0,612.6 379.8,613.2 380.5,622.6 381.2,630.6 382.0,631.1 382.8,638.5 383.5,640.3 384.2,643.8 385.0,654.8 385.8,647.5 386.5,658.3 387.2,657.6 388.0,657.7 388.8,660.8 389.5,663.2 390.2,666.3 391.0,667.6 391.8,667.9 392.5,662.5 393.2,663.1 394.0,672.6 394.8,670.7 395.5,672.3 396.2,674.7 397.0,673.3 397.8,681.5 398.5,678.2 399.2,678.3 400.0,676.5 400.8,681.6 401.5,681.6 402.2,683.8 403.0,683.0 403.8,679.9 404.5,679.6 405.2,684.9 406.0,681.6 406.8,682.9 407.5,683.0 408.2,684.5 409.0,684.9 409.8,683.0 410.5,684.0 411.2,683.2 412.0,684.9 412.8,684.9 413.5,684.0" fill="none" stroke="#1a1a1a" stroke-width="1.0" opacity="1" stroke-linejoin="round"/>
<polyline points="262.0,684.9 262.8,684.4 263.5,684.9 264.2,684.9 265.0,684.6 265.8,684.8 266.5,684.8 267.2,684.9 268.0,684.9 268.8,684.9 269.5,684.9 270.2,684.9 271.0,684.9 271.8,684.9 272.5,684.6 273.2,683.6 274.0,682.8 274.8,684.5 275.5,684.3 276.2,684.8 277.0,684.7 277.8,682.5 278.5,683.1 279.2,682.4 280.0,684.9 280.8,683.6 281.5,683.9 282.2,682.2 283.0,681.6 283.8,682.5 284.5,683.2 285.2,684.0 286.0,680.7 286.8,683.6 287.5,681.6 288.2,682.1 289.0,682.4 289.8,682.2 290.5,683.6 291.2,684.1 292.0,683.0 292.8,681.1 293.5,682.6 294.2,682.2 295.0,682.8 295.8,681.3 296.5,677.0 297.2,678.4 298.0,678.8 298.8,681.5 299.5,678.8 300.2,681.0 301.0,679.3 301.8,675.7 302.5,678.1 303.2,678.6 304.0,677.3 304.8,671.2 305.5,675.2 306.2,670.9 307.0,664.8 307.8,668.0 308.5,661.7 309.2,662.4 310.0,670.3 310.8,672.7 311.5,666.3 312.2,662.6 313.0,667.2 313.8,660.0 314.5,653.6 315.2,646.7 316.0,659.9 316.8,644.6 317.5,639.2 318.2,645.7 319.0,645.5 319.8,637.1 320.5,642.9 321.2,633.3 322.0,631.4 322.8,629.6 323.5,621.3 324.2,623.9 325.0,634.1 325.8,611.4 326.5,613.9 327.2,611.5 328.0,599.7 328.8,598.1 329.5,582.2 330.2,587.2 331.0,587.7 331.8,593.1 332.5,588.4 333.2,572.6 334.0,563.3 334.8,580.6 335.5,568.8 336.2,542.8 337.0,553.2 337.8,547.3 338.5,547.9 339.2,536.9 340.0,545.7 340.8,543.6 341.5,545.7 342.2,556.4 343.0,549.8 343.8,538.0 344.5,533.9 345.2,544.0 346.0,558.1 346.8,556.5 347.5,544.2 348.2,559.2 349.0,553.7 349.8,545.6 350.5,554.7 351.2,551.6 352.0,544.6 352.8,551.8 353.5,558.1 354.2,568.6 355.0,550.5 355.8,562.4 356.5,562.9 357.2,565.1 358.0,559.1 358.8,581.3 359.5,584.5 360.2,589.3 361.0,583.0 361.8,592.1 362.5,588.1 363.2,596.0 364.0,592.2 364.8,601.5 365.5,602.2 366.2,600.0 367.0,606.4 367.8,605.4 368.5,609.3 369.2,617.7 370.0,620.1 370.8,638.3 371.5,638.5 372.2,637.0 373.0,639.0 373.8,634.8 374.5,645.4 375.2,642.0 376.0,649.9 376.8,653.5 377.5,655.7 378.2,662.6 379.0,658.6 379.8,673.3 380.5,665.5 381.2,672.6 382.0,666.9 382.8,675.8 383.5,670.0 384.2,674.9 385.0,675.2 385.8,678.5 386.5,679.0 387.2,679.5 388.0,679.3 388.8,684.8 389.5,680.6 390.2,682.3 391.0,681.9 391.8,683.1 392.5,681.4 393.2,682.6 394.0,684.3 394.8,682.8 395.5,684.6 396.2,683.4 397.0,684.9 397.8,684.5 398.5,684.9 399.2,684.9 400.0,684.9 400.8,684.9 401.5,684.9" fill="none" stroke="#ea2a2a" stroke-width="1.0" opacity="1" stroke-linejoin="round"/>
<polyline points="305.0,684.9 305.8,683.9 306.5,684.9 307.2,684.9 308.0,684.9 308.8,684.9 309.5,684.9 310.2,684.9 311.0,684.9 311.8,684.9 312.5,684.9 313.2,683.5 314.0,683.0 314.8,684.9 315.5,684.9 316.2,684.5 317.0,681.2 317.8,683.9 318.5,684.0 319.2,682.4 320.0,682.5 320.8,684.9 321.5,684.9 322.2,684.7 323.0,683.8 323.8,682.3 324.5,682.4 325.2,684.2 326.0,681.1 326.8,681.9 327.5,684.9 328.2,678.9 329.0,679.5 329.8,684.8 330.5,681.1 331.2,680.2 332.0,677.1 332.8,675.1 333.5,681.4 334.2,670.7 335.0,678.6 335.8,675.4 336.5,676.3 337.2,670.3 338.0,678.7 338.8,677.7 339.5,676.6 340.2,676.8 341.0,671.3 341.8,675.6 342.5,676.3 343.2,674.4 344.0,664.6 344.8,673.9 345.5,674.4 346.2,670.4 347.0,673.9 347.8,677.6 348.5,672.8 349.2,677.1 350.0,670.6 350.8,669.5 351.5,672.5 352.2,668.1 353.0,665.0 353.8,671.8 354.5,670.4 355.2,671.9 356.0,665.0 356.8,664.5 357.5,665.8 358.2,659.3 359.0,658.3 359.8,658.5 360.5,652.7 361.2,655.5 362.0,644.6 362.8,651.2 363.5,659.5 364.2,645.7 365.0,637.2 365.8,628.2 366.5,628.9 367.2,630.9 368.0,624.1 368.8,627.6 369.5,621.1 370.2,621.5 371.0,611.9 371.8,616.7 372.5,617.6 373.2,597.1 374.0,597.7 374.8,592.2 375.5,587.6 376.2,593.3 377.0,578.8 377.8,570.3 378.5,560.6 379.2,552.2 380.0,557.4 380.8,561.1 381.5,550.4 382.2,538.7 383.0,539.2 383.8,526.5 384.5,539.8 385.2,527.7 386.0,538.1 386.8,526.1 387.5,521.6 388.2,503.4 389.0,516.1 389.8,504.5 390.5,500.5 391.2,506.7 392.0,520.2 392.8,509.4 393.5,527.7 394.2,516.5 395.0,499.3 395.8,514.3 396.5,542.6 397.2,533.7 398.0,533.9 398.8,531.9 399.5,542.1 400.2,549.0 401.0,546.1 401.8,559.6 402.5,574.3 403.2,572.2 404.0,583.4 404.8,586.4 405.5,595.3 406.2,601.7 407.0,610.3 407.8,613.3 408.5,634.5 409.2,629.5 410.0,640.3 410.8,641.2 411.5,651.0 412.2,655.3 413.0,664.2 413.8,669.1 414.5,665.2 415.2,677.0 416.0,673.6 416.8,678.1 417.5,675.7 418.2,679.6 419.0,679.3 419.8,678.5 420.5,684.0 421.2,683.5 422.0,684.0 422.8,684.6 423.5,684.9 424.2,684.9 425.0,683.1 425.8,684.1 426.5,683.7 427.2,684.9 428.0,684.8 428.8,684.6 429.5,684.9 430.2,684.9 431.0,684.9 431.8,684.1 432.5,684.9 433.2,684.9 434.0,684.8" fill="none" stroke="#2b2bea" stroke-width="1.0" opacity="1" stroke-linejoin="round"/>
<text x="457.50" y="472.00" font-family="Liberation Serif" font-size="37" font-weight="bold" font-style="normal" text-anchor="start" fill="#000" stroke="#000" stroke-width="0.25" >f</text>
<line x1="527.40" y1="466.50" x2="527.40" y2="666.60" stroke="#000" stroke-width="1.6" />
<line x1="525.90" y1="665.60" x2="644.00" y2="665.60" stroke="#000" stroke-width="1.6" />
<line x1="524.40" y1="665.60" x2="527.40" y2="665.60" stroke="#000" stroke-width="1.6" />
<text x="524.30" y="670.40" font-family="Liberation Sans" font-size="13.3" font-weight="bold" font-style="normal" text-anchor="end" fill="#111" stroke="#111" stroke-width="0.25" >0.0</text>
<line x1="524.40" y1="625.88" x2="527.40" y2="625.88" stroke="#000" stroke-width="1.6" />
<text x="524.30" y="630.68" font-family="Liberation Sans" font-size="13.3" font-weight="bold" font-style="normal" text-anchor="end" fill="#111" stroke="#111" stroke-width="0.25" >0.5</text>
<line x1="524.40" y1="586.16" x2="527.40" y2="586.16" stroke="#000" stroke-width="1.6" />
<text x="524.30" y="590.96" font-family="Liberation Sans" font-size="13.3" font-weight="bold" font-style="normal" text-anchor="end" fill="#111" stroke="#111" stroke-width="0.25" >1.0</text>
<line x1="524.40" y1="546.44" x2="527.40" y2="546.44" stroke="#000" stroke-width="1.6" />
<text x="524.30" y="551.24" font-family="Liberation Sans" font-size="13.3" font-weight="bold" font-style="normal" text-anchor="end" fill="#111" stroke="#111" stroke-width="0.25" >1.5</text>
<line x1="524.40" y1="506.72" x2="527.40" y2="506.72" stroke="#000" stroke-width="1.6" />
<text x="524.30" y="511.52" font-family="Liberation Sans" font-size="13.3" font-weight="bold" font-style="normal" text-anchor="end" fill="#111" stroke="#111" stroke-width="0.25" >2.0</text>
<line x1="524.40" y1="467.00" x2="527.40" y2="467.00" stroke="#000" stroke-width="1.6" />
<text x="524.30" y="471.80" font-family="Liberation Sans" font-size="13.3" font-weight="bold" font-style="normal" text-anchor="end" fill="#111" stroke="#111" stroke-width="0.25" >2.5</text>
<rect x="538.80" y="586.16" width="17.60" height="79.44" fill="#fff" stroke="#1a1a1a" stroke-width="1.6" />
<line x1="547.20" y1="586.16" x2="547.20" y2="577.34" stroke="#1a1a1a" stroke-width="1.6" />
<line x1="542.00" y1="577.34" x2="552.40" y2="577.34" stroke="#1a1a1a" stroke-width="1.6" />
<rect x="556.40" y="527.77" width="20.60" height="137.83" fill="#1a1a1a" stroke="none" stroke-width="0" />
<line x1="566.70" y1="527.77" x2="566.70" y2="508.31" stroke="#1a1a1a" stroke-width="1.6" />
<line x1="561.50" y1="508.31" x2="571.90" y2="508.31" stroke="#1a1a1a" stroke-width="1.6" />
<rect x="597.20" y="586.16" width="17.20" height="79.44" fill="#fff" stroke="#1a1a1a" stroke-width="1.6" />
<line x1="605.40" y1="586.16" x2="605.40" y2="582.19" stroke="#1a1a1a" stroke-width="1.6" />
<line x1="600.20" y1="582.19" x2="610.60" y2="582.19" stroke="#1a1a1a" stroke-width="1.6" />
<rect x="614.40" y="585.60" width="21.60" height="80.00" fill="#1a1a1a" stroke="none" stroke-width="0" />
<line x1="625.20" y1="585.60" x2="625.20" y2="574.64" stroke="#1a1a1a" stroke-width="1.6" />
<line x1="620.00" y1="574.64" x2="630.40" y2="574.64" stroke="#1a1a1a" stroke-width="1.6" />
<line x1="556.40" y1="665.60" x2="556.40" y2="668.60" stroke="#000" stroke-width="1.6" />
<line x1="615.40" y1="665.60" x2="615.40" y2="668.60" stroke="#000" stroke-width="1.6" />
<rect x="538.80" y="465.60" width="12.80" height="9.60" fill="#fff" stroke="#1a1a1a" stroke-width="1.4" />
<rect x="538.00" y="479.00" width="13.60" height="10.00" fill="#1a1a1a" stroke="none" stroke-width="0" />
<text x="558.30" y="475.00" font-family="Liberation Sans" font-size="12.4" font-weight="bold" font-style="normal" text-anchor="start" fill="#111" stroke="#111" stroke-width="0.25" >Control</text>
<text x="558.30" y="489.00" font-family="Liberation Sans" font-size="12.4" font-weight="bold" font-style="normal" text-anchor="start" fill="#111" stroke="#111" stroke-width="0.25" >rCD248</text>
<line x1="547.00" y1="502.00" x2="568.00" y2="502.00" stroke="#000" stroke-width="2" />
<line x1="571.00" y1="502.00" x2="622.60" y2="502.00" stroke="#000" stroke-width="2" />
<text x="557.30" y="503.50" font-family="Liberation Sans" font-size="12" font-weight="bold" font-style="normal" text-anchor="middle" fill="#333" stroke="#333" stroke-width="0.25" >*</text>
<text x="596.60" y="503.50" font-family="Liberation Sans" font-size="12" font-weight="bold" font-style="normal" text-anchor="middle" fill="#333" stroke="#333" stroke-width="0.25" >*</text>
<text x="556.60" y="683.00" font-family="Liberation Sans" font-size="13.8" font-weight="bold" font-style="normal" text-anchor="middle" fill="#111" stroke="#111" stroke-width="0.25" >WT</text>
<text x="597.00" y="683.00" font-family="Liberation Sans" font-size="13.8" font-weight="bold" font-style="normal" text-anchor="start" fill="#111" stroke="#111" stroke-width="0.25" >Gal3</text>
<text x="628.30" y="675.80" font-family="Liberation Sans" font-size="10.5" font-weight="bold" font-style="normal" text-anchor="start" fill="#111" stroke="#111" stroke-width="0.25" letter-spacing="-0.3">-/-</text>
<text x="506.50" y="704.00" font-family="Liberation Sans" font-size="21.8" font-weight="bold" font-style="normal" text-anchor="start" fill="#000" stroke="#000" stroke-width="0.25" >macrophages</text>
<text x="0.00" y="0.00" font-family="Liberation Sans" font-size="18.3" font-weight="bold" font-style="italic" text-anchor="middle" fill="#111" stroke="#111" stroke-width="0.25" transform="translate(494.5,562) rotate(-90)">Ccl17</text>
<text x="9.00" y="738.00" font-family="Liberation Serif" font-size="37" font-weight="bold" font-style="normal" text-anchor="start" fill="#000" stroke="#000" stroke-width="0.25" >g</text>
<filter id="gnoise" x="0" y="0" width="100%" height="100%"><feTurbulence type="fractalNoise" baseFrequency="0.9" numOctaves="2" seed="3"/><feColorMatrix type="matrix" values="0 0 0 0 0.23  0 0 0 0 0.23  0 0 0 0 0.23  0 0 0 -1.2 1.0"/></filter>
<clipPath id="gclip1"><rect x="71" y="773.1" width="162" height="58.39999999999998"/></clipPath><g clip-path="url(#gclip1)">
<rect x="71.00" y="773.10" width="162.00" height="58.40" fill="#3b3b3b" stroke="none" stroke-width="0" />
<rect x="71" y="773.1" width="162" height="58.39999999999998" fill="#000" opacity="0.22" filter="url(#gnoise)"/>
<rect x="72.00" y="770.10" width="19.00" height="64.40" rx="0" fill="#404040" opacity="1" filter="url(#b1_5)"/>
<rect x="72.50" y="774.50" width="18.00" height="2.60" rx="0" fill="#a8a8a8" opacity="1" filter="url(#b0_9)"/>
<rect x="72.50" y="783.70" width="18.00" height="2.60" rx="0" fill="#5e5e5e" opacity="1" filter="url(#b0_9)"/>
<rect x="72.50" y="793.10" width="18.00" height="2.60" rx="0" fill="#585858" opacity="1" filter="url(#b0_9)"/>
<rect x="72.50" y="806.00" width="18.00" height="2.60" rx="0" fill="#525252" opacity="1" filter="url(#b0_9)"/>
<rect x="98.90" y="802.80" width="20.70" height="8.00" rx="2" fill="#a8a8a8" opacity="1" filter="url(#b1_6)"/>
<rect x="100.90" y="804.60" width="16.70" height="4.40" rx="1" fill="#fafafa" opacity="1" filter="url(#b0_8)"/>
<rect x="127.30" y="802.80" width="21.20" height="8.00" rx="2" fill="#a8a8a8" opacity="1" filter="url(#b1_6)"/>
<rect x="129.30" y="804.60" width="17.20" height="4.40" rx="1" fill="#fafafa" opacity="1" filter="url(#b0_8)"/>
<rect x="155.90" y="802.80" width="20.70" height="8.00" rx="2" fill="#a8a8a8" opacity="1" filter="url(#b1_6)"/>
<rect x="157.90" y="804.60" width="16.70" height="4.40" rx="1" fill="#fafafa" opacity="1" filter="url(#b0_8)"/>
<rect x="184.80" y="802.80" width="20.70" height="8.00" rx="2" fill="#a8a8a8" opacity="1" filter="url(#b1_6)"/>
<rect x="186.80" y="804.60" width="16.70" height="4.40" rx="1" fill="#fafafa" opacity="1" filter="url(#b0_8)"/>
</g>
<clipPath id="gclip2"><rect x="71" y="842.2" width="162" height="57.799999999999955"/></clipPath><g clip-path="url(#gclip2)">
<rect x="71.00" y="842.20" width="162.00" height="57.80" fill="#3b3b3b" stroke="none" stroke-width="0" />
<rect x="71" y="842.2" width="162" height="57.799999999999955" fill="#000" opacity="0.22" filter="url(#gnoise)"/>
<rect x="72.00" y="839.20" width="19.00" height="63.80" rx="0" fill="#404040" opacity="1" filter="url(#b1_5)"/>
<rect x="72.50" y="843.60" width="18.00" height="2.60" rx="0" fill="#b0b0b0" opacity="1" filter="url(#b0_9)"/>
<rect x="72.50" y="852.00" width="18.00" height="2.60" rx="0" fill="#626262" opacity="1" filter="url(#b0_9)"/>
<rect x="72.50" y="862.00" width="18.00" height="2.60" rx="0" fill="#5a5a5a" opacity="1" filter="url(#b0_9)"/>
<rect x="72.50" y="873.80" width="18.00" height="2.60" rx="0" fill="#535353" opacity="1" filter="url(#b0_9)"/>
<rect x="98.90" y="883.55" width="20.70" height="9.50" rx="2" fill="#a8a8a8" opacity="1" filter="url(#b1_6)"/>
<rect x="100.90" y="885.35" width="16.70" height="5.90" rx="1" fill="#e6e6e6" opacity="1" filter="url(#b0_8)"/>
<rect x="127.30" y="883.55" width="21.20" height="9.50" rx="2" fill="#a8a8a8" opacity="1" filter="url(#b1_6)"/>
<rect x="129.30" y="885.35" width="17.20" height="5.90" rx="1" fill="#e6e6e6" opacity="1" filter="url(#b0_8)"/>
<rect x="155.90" y="883.55" width="20.70" height="9.50" rx="2" fill="#a8a8a8" opacity="1" filter="url(#b1_6)"/>
<rect x="157.90" y="885.35" width="16.70" height="5.90" rx="1" fill="#e6e6e6" opacity="1" filter="url(#b0_8)"/>
<rect x="184.80" y="883.55" width="20.70" height="9.50" rx="2" fill="#a8a8a8" opacity="1" filter="url(#b1_6)"/>
<rect x="186.80" y="885.35" width="16.70" height="5.90" rx="1" fill="#e6e6e6" opacity="1" filter="url(#b0_8)"/>
</g>
<line x1="100.70" y1="768.20" x2="144.60" y2="768.20" stroke="#000" stroke-width="3" />
<line x1="158.50" y1="768.20" x2="203.20" y2="768.20" stroke="#000" stroke-width="3" />
<text x="0.00" y="0.00" font-family="Liberation Sans" font-size="15.5" font-weight="bold" font-style="normal" text-anchor="middle" fill="#000" stroke="#000" stroke-width="0.25" transform="translate(129.5,759) rotate(-40)">WT</text>
<text font-family="Liberation Sans" font-size="16" font-weight="normal" font-style="italic" stroke="#000" stroke-width="0.7" text-anchor="middle" transform="translate(198,750.5) rotate(-40)">Cd248<tspan font-size="9.5" stroke-width="0.5" dy="-6.5">-/-</tspan></text>
<text font-family="Liberation Sans" font-size="15.5" font-weight="bold" text-anchor="middle" transform="translate(229.5,763) rotate(-40)">H<tspan font-size="9.5" dy="3">2</tspan><tspan dy="-3">O</tspan></text>
<text x="66.00" y="808.20" font-family="Liberation Sans" font-size="21.2" font-weight="normal" font-style="italic" text-anchor="end" fill="#000" stroke="#000" stroke-width="0.6" >Ccr4</text>
<text x="68.00" y="873.40" font-family="Liberation Sans" font-size="21.2" font-weight="normal" font-style="italic" text-anchor="end" fill="#000" stroke="#000" stroke-width="0.6" >Gapdh</text>
<text x="234.50" y="814.40" font-family="Liberation Serif" font-size="21" font-weight="normal" font-style="normal" text-anchor="start" fill="#000" stroke="#000" stroke-width="0.25" letter-spacing="0.45">199 bp</text>
<text x="234.50" y="884.60" font-family="Liberation Serif" font-size="21" font-weight="normal" font-style="normal" text-anchor="start" fill="#000" stroke="#000" stroke-width="0.25" letter-spacing="0.45">133 bp</text>
<text x="73.00" y="933.60" font-family="Liberation Sans" font-size="22.3" font-weight="bold" font-style="normal" text-anchor="start" fill="#000" stroke="#000" stroke-width="0.25" >myofibroblast</text>
<text x="283.00" y="735.80" font-family="Liberation Serif" font-size="37" font-weight="bold" font-style="normal" text-anchor="start" fill="#000" stroke="#000" stroke-width="0.25" >h</text>
<rect x="339.30" y="715.10" width="13.60" height="12.20" fill="#fff" stroke="#000" stroke-width="1.5" />
<rect x="389.00" y="714.40" width="16.00" height="13.60" fill="#000" stroke="none" stroke-width="0" />
<text x="360.20" y="726.80" font-family="Liberation Sans" font-size="15.2" font-weight="bold" font-style="normal" text-anchor="start" fill="#000" stroke="#000" stroke-width="0.25" >WT</text>
<text x="411.30" y="727.20" font-family="Liberation Sans" font-size="15.3" font-weight="bold" font-style="italic" text-anchor="start" fill="#000" stroke="#000" stroke-width="0.25" >Cd248</text>
<text x="457.30" y="722.30" font-family="Liberation Sans" font-size="10.5" font-weight="normal" font-style="italic" text-anchor="start" fill="#000" stroke="#000" stroke-width="0.25" letter-spacing="0.3">-/-</text>
<line x1="337.40" y1="740.00" x2="337.40" y2="913.00" stroke="#000" stroke-width="1.6" />
<line x1="336.00" y1="912.20" x2="485.60" y2="912.20" stroke="#000" stroke-width="1.6" />
<line x1="334.60" y1="912.20" x2="337.40" y2="912.20" stroke="#000" stroke-width="1.5" />
<text x="333.80" y="915.80" font-family="Liberation Sans" font-size="10.5" font-weight="bold" font-style="normal" text-anchor="end" fill="#000" stroke="#000" stroke-width="0.25" >0</text>
<line x1="334.60" y1="855.10" x2="337.40" y2="855.10" stroke="#000" stroke-width="1.5" />
<text x="333.80" y="858.70" font-family="Liberation Sans" font-size="10.5" font-weight="bold" font-style="normal" text-anchor="end" fill="#000" stroke="#000" stroke-width="0.25" >1</text>
<line x1="334.60" y1="798.00" x2="337.40" y2="798.00" stroke="#000" stroke-width="1.5" />
<text x="333.80" y="801.60" font-family="Liberation Sans" font-size="10.5" font-weight="bold" font-style="normal" text-anchor="end" fill="#000" stroke="#000" stroke-width="0.25" >2</text>
<line x1="334.60" y1="740.90" x2="337.40" y2="740.90" stroke="#000" stroke-width="1.5" />
<text x="333.80" y="744.50" font-family="Liberation Sans" font-size="10.5" font-weight="bold" font-style="normal" text-anchor="end" fill="#000" stroke="#000" stroke-width="0.25" >3</text>
<rect x="346.40" y="854.40" width="16.00" height="57.80" fill="#fff" stroke="#000" stroke-width="1.6" />
<line x1="354.00" y1="854.40" x2="354.00" y2="852.00" stroke="#000" stroke-width="1.6" />
<line x1="349.00" y1="852.00" x2="359.00" y2="852.00" stroke="#000" stroke-width="1.6" />
<rect x="362.40" y="854.60" width="17.20" height="57.60" fill="#000" stroke="none" stroke-width="0" />
<line x1="371.00" y1="854.60" x2="371.00" y2="853.20" stroke="#000" stroke-width="1.6" />
<line x1="366.00" y1="853.20" x2="376.00" y2="853.20" stroke="#000" stroke-width="1.6" />
<rect x="396.20" y="774.40" width="16.00" height="137.80" fill="#fff" stroke="#000" stroke-width="1.6" />
<line x1="403.80" y1="774.40" x2="403.80" y2="764.40" stroke="#000" stroke-width="1.6" />
<line x1="398.80" y1="764.40" x2="408.80" y2="764.40" stroke="#000" stroke-width="1.6" />
<rect x="412.20" y="794.00" width="17.20" height="118.20" fill="#000" stroke="none" stroke-width="0" />
<line x1="420.80" y1="794.00" x2="420.80" y2="787.60" stroke="#000" stroke-width="1.6" />
<line x1="415.80" y1="787.60" x2="425.80" y2="787.60" stroke="#000" stroke-width="1.6" />
<rect x="446.40" y="784.40" width="16.00" height="127.80" fill="#fff" stroke="#000" stroke-width="1.6" />
<line x1="454.00" y1="784.40" x2="454.00" y2="778.00" stroke="#000" stroke-width="1.6" />
<line x1="449.00" y1="778.00" x2="459.00" y2="778.00" stroke="#000" stroke-width="1.6" />
<rect x="462.40" y="794.00" width="17.20" height="118.20" fill="#000" stroke="none" stroke-width="0" />
<line x1="471.00" y1="794.00" x2="471.00" y2="791.00" stroke="#000" stroke-width="1.6" />
<line x1="466.00" y1="791.00" x2="476.00" y2="791.00" stroke="#000" stroke-width="1.6" />
<line x1="354.40" y1="740.60" x2="455.00" y2="740.60" stroke="#000" stroke-width="2" />
<line x1="354.40" y1="758.40" x2="404.00" y2="758.40" stroke="#000" stroke-width="2" />
<text x="405.80" y="742.20" font-family="Liberation Sans" font-size="11" font-weight="bold" font-style="normal" text-anchor="middle" fill="#333" stroke="#333" stroke-width="0.25" letter-spacing="1.4">***</text>
<text x="380.00" y="759.30" font-family="Liberation Sans" font-size="11" font-weight="bold" font-style="normal" text-anchor="middle" fill="#333" stroke="#333" stroke-width="0.25" letter-spacing="1.4">***</text>
<text x="0.00" y="0.00" font-family="Liberation Sans" font-size="20.8" font-weight="normal" font-style="italic" text-anchor="middle" fill="#000" transform="translate(321.5,830.8) rotate(-90)" stroke="#000" stroke-width="0.45">Col1a1/Gapdh</text>
<text x="0.00" y="0.00" font-family="Liberation Sans" font-size="21" font-weight="normal" font-style="italic" text-anchor="end" fill="#000" stroke="#000" stroke-width="0.55" transform="translate(369.5,921) rotate(-47)">Con</text>
<text x="0.00" y="0.00" font-family="Liberation Sans" font-size="21" font-weight="normal" font-style="italic" text-anchor="end" fill="#000" stroke="#000" stroke-width="0.55" transform="translate(425,921) rotate(-47)">TGF-b</text>
<text x="0.00" y="0.00" font-family="Liberation Sans" font-size="21" font-weight="normal" font-style="normal" text-anchor="end" fill="#000" stroke="#000" stroke-width="0.55" transform="translate(474.2,921.5) rotate(-47)">CCL17</text>
<line x1="534.30" y1="740.00" x2="534.30" y2="913.10" stroke="#000" stroke-width="1.6" />
<line x1="533.00" y1="912.30" x2="685.00" y2="912.30" stroke="#000" stroke-width="1.6" />
<line x1="531.50" y1="912.30" x2="534.30" y2="912.30" stroke="#000" stroke-width="1.5" />
<text x="530.80" y="915.90" font-family="Liberation Sans" font-size="10.5" font-weight="bold" font-style="normal" text-anchor="end" fill="#000" stroke="#000" stroke-width="0.25" >0.0</text>
<line x1="531.50" y1="855.10" x2="534.30" y2="855.10" stroke="#000" stroke-width="1.5" />
<text x="530.80" y="858.70" font-family="Liberation Sans" font-size="10.5" font-weight="bold" font-style="normal" text-anchor="end" fill="#000" stroke="#000" stroke-width="0.25" >0.5</text>
<line x1="531.50" y1="797.90" x2="534.30" y2="797.90" stroke="#000" stroke-width="1.5" />
<text x="530.80" y="801.50" font-family="Liberation Sans" font-size="10.5" font-weight="bold" font-style="normal" text-anchor="end" fill="#000" stroke="#000" stroke-width="0.25" >1.0</text>
<line x1="531.50" y1="740.70" x2="534.30" y2="740.70" stroke="#000" stroke-width="1.5" />
<text x="530.80" y="744.30" font-family="Liberation Sans" font-size="10.5" font-weight="bold" font-style="normal" text-anchor="end" fill="#000" stroke="#000" stroke-width="0.25" >1.5</text>
<rect x="543.50" y="797.50" width="15.80" height="114.80" fill="#fff" stroke="#000" stroke-width="1.6" />
<line x1="551.00" y1="797.50" x2="551.00" y2="793.50" stroke="#000" stroke-width="1.6" />
<line x1="546.00" y1="793.50" x2="556.00" y2="793.50" stroke="#000" stroke-width="1.6" />
<rect x="559.30" y="797.20" width="16.70" height="115.10" fill="#000" stroke="none" stroke-width="0" />
<line x1="567.65" y1="797.20" x2="567.65" y2="790.80" stroke="#000" stroke-width="1.6" />
<line x1="562.65" y1="790.80" x2="572.65" y2="790.80" stroke="#000" stroke-width="1.6" />
<rect x="593.40" y="778.00" width="15.80" height="134.30" fill="#fff" stroke="#000" stroke-width="1.6" />
<line x1="600.90" y1="778.00" x2="600.90" y2="773.70" stroke="#000" stroke-width="1.6" />
<line x1="595.90" y1="773.70" x2="605.90" y2="773.70" stroke="#000" stroke-width="1.6" />
<rect x="609.20" y="786.20" width="16.70" height="126.10" fill="#000" stroke="none" stroke-width="0" />
<line x1="617.55" y1="786.20" x2="617.55" y2="778.00" stroke="#000" stroke-width="1.6" />
<line x1="612.55" y1="778.00" x2="622.55" y2="778.00" stroke="#000" stroke-width="1.6" />
<rect x="643.40" y="806.20" width="15.80" height="106.10" fill="#fff" stroke="#000" stroke-width="1.6" />
<line x1="650.90" y1="806.20" x2="650.90" y2="799.70" stroke="#000" stroke-width="1.6" />
<line x1="645.90" y1="799.70" x2="655.90" y2="799.70" stroke="#000" stroke-width="1.6" />
<rect x="659.20" y="807.80" width="16.70" height="104.50" fill="#000" stroke="none" stroke-width="0" />
<line x1="667.55" y1="807.80" x2="667.55" y2="803.50" stroke="#000" stroke-width="1.6" />
<line x1="662.55" y1="803.50" x2="672.55" y2="803.50" stroke="#000" stroke-width="1.6" />
<line x1="548.00" y1="765.00" x2="601.30" y2="765.00" stroke="#000" stroke-width="2" />
<text x="576.40" y="766.50" font-family="Liberation Sans" font-size="10" font-weight="bold" font-style="normal" text-anchor="middle" fill="#333" stroke="#333" stroke-width="0.25" >*</text>
<text x="0.00" y="0.00" font-family="Liberation Sans" font-size="20.8" font-weight="normal" font-style="italic" text-anchor="middle" fill="#000" transform="translate(509.5,832.5) rotate(-90)" stroke="#000" stroke-width="0.45">Acta2/Gapdh</text>
<text x="0.00" y="0.00" font-family="Liberation Sans" font-size="21" font-weight="normal" font-style="italic" text-anchor="end" fill="#000" stroke="#000" stroke-width="0.55" transform="translate(568.5,921) rotate(-47)">Con</text>
<text x="0.00" y="0.00" font-family="Liberation Sans" font-size="21" font-weight="normal" font-style="italic" text-anchor="end" fill="#000" stroke="#000" stroke-width="0.55" transform="translate(624.5,920.5) rotate(-47)">TGF-b</text>
<text x="0.00" y="0.00" font-family="Liberation Sans" font-size="21" font-weight="normal" font-style="normal" text-anchor="end" fill="#000" stroke="#000" stroke-width="0.55" transform="translate(674.2,922) rotate(-47)">CCL17</text>
</svg></body></html>
